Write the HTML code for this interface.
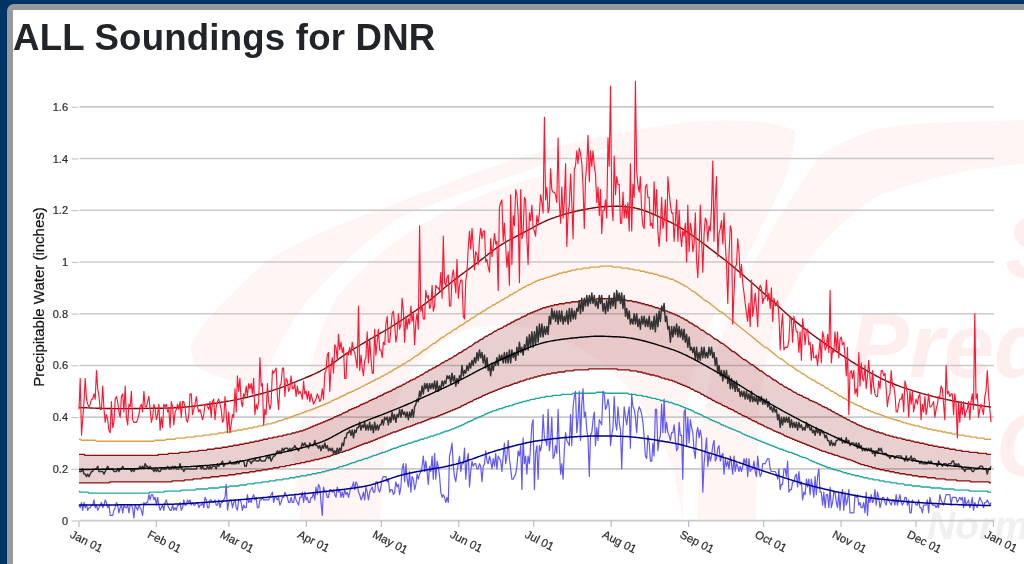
<!DOCTYPE html>
<html><head><meta charset="utf-8"><title>ALL Soundings for DNR</title>
<style>
html,body{margin:0;padding:0;}
body{width:1024px;height:564px;overflow:hidden;background:#003366;position:relative;font-family:"Liberation Sans",sans-serif;}
#frame{position:absolute;left:7px;top:4px;width:1100px;height:700px;box-sizing:border-box;border:6px solid #999;border-radius:7px;background:#fff;}
h1{position:absolute;left:12.5px;top:17.1px;margin:0;font-size:36.4px;line-height:42px;font-weight:bold;color:#212529;white-space:nowrap;letter-spacing:0.2px;transform:scaleX(1.006);transform-origin:0 0;will-change:transform;}
</style></head><body>
<div id="frame"></div>
<!--WATERMARK-->
<h1>ALL Soundings for DNR</h1>
<svg width="1024" height="564" viewBox="0 0 1024 564" style="position:absolute;left:0;top:0;will-change:transform" font-family="Liberation Sans, sans-serif">
<g fill="#fff5f5" stroke="none">
<path d="M190,347 C200,325 215,310 228,298 C245,280 258,268 273,257 C305,238 345,222 381,209 C415,196 448,183 478,172 C505,163 533,153 560,146 C600,136 640,128 690,122 C730,119 770,120 796,131 C792,160 786,178 780,191 C770,210 762,225 758,235 C745,262 732,282 722,300 C712,318 705,335 700,350 C690,380 686,400 684,430 L683,521 C677,470 660,425 630,390 C595,350 545,325 500,325 C440,325 400,370 385,440 L380,521 L300,521 C296,470 290,420 280,395 C272,388 265,384 257,382 C240,384 215,378 195,366 Z"/>
<path d="M820,156 C838,143 858,135 877,129 C905,124 935,122 966,122 L1024,120 L1024,164 C1000,166 985,168 972,170 C940,176 910,184 880,195 C868,201 860,207 855,213 C838,226 824,240 811,257 C797,277 785,300 775,328 C768,350 762,380 758,420 L756,521 L697,521 C698,450 704,390 722,335 C745,270 785,205 820,156 Z"/>
</g>
<path d="M262,384 C275,350 290,322 310,298 C338,266 368,238 403,216 C432,204 462,193 492,183 C515,175 538,166 560,159 C580,154 598,150 615,148 C598,155 580,163 560,170 C538,177 517,183 496,190 C466,201 438,214 411,231 C382,250 357,272 336,298 C322,325 310,360 304,400 L300,440 L286,440 C284,420 276,398 262,384 Z" fill="#fff" stroke="none"/>
<g font-weight="bold" font-style="italic" fill="#ffeeee">
<text x="1005" y="278" font-size="90">Storm</text>
<text x="849" y="377" font-size="90">Prediction</text>
<text x="996" y="476" font-size="90">Center</text>
<text x="927" y="539" font-size="39" fill="#f0f0f0">Norman, Oklahoma</text>
</g>
<line x1="79.6" x2="994" y1="520.60" y2="520.60" stroke="#c9caca" stroke-width="1.6"/>
<line x1="71.6" x2="78.4" y1="521.00" y2="521.00" stroke="#a6a6a6" stroke-width="0.75"/>
<text x="68" y="524.60" font-size="11" fill="#2b2b2b" stroke="#2b2b2b" stroke-width="0.2" text-anchor="end">0</text>
<line x1="79.6" x2="994" y1="468.88" y2="468.88" stroke="#c9caca" stroke-width="1.6"/>
<line x1="71.6" x2="78.4" y1="469.28" y2="469.28" stroke="#a6a6a6" stroke-width="0.75"/>
<text x="68" y="472.88" font-size="11" fill="#2b2b2b" stroke="#2b2b2b" stroke-width="0.2" text-anchor="end">0.2</text>
<line x1="79.6" x2="994" y1="417.16" y2="417.16" stroke="#c9caca" stroke-width="1.6"/>
<line x1="71.6" x2="78.4" y1="417.56" y2="417.56" stroke="#a6a6a6" stroke-width="0.75"/>
<text x="68" y="421.16" font-size="11" fill="#2b2b2b" stroke="#2b2b2b" stroke-width="0.2" text-anchor="end">0.4</text>
<line x1="79.6" x2="994" y1="365.44" y2="365.44" stroke="#c9caca" stroke-width="1.6"/>
<line x1="71.6" x2="78.4" y1="365.84" y2="365.84" stroke="#a6a6a6" stroke-width="0.75"/>
<text x="68" y="369.44" font-size="11" fill="#2b2b2b" stroke="#2b2b2b" stroke-width="0.2" text-anchor="end">0.6</text>
<line x1="79.6" x2="994" y1="313.72" y2="313.72" stroke="#c9caca" stroke-width="1.6"/>
<line x1="71.6" x2="78.4" y1="314.12" y2="314.12" stroke="#a6a6a6" stroke-width="0.75"/>
<text x="68" y="317.72" font-size="11" fill="#2b2b2b" stroke="#2b2b2b" stroke-width="0.2" text-anchor="end">0.8</text>
<line x1="79.6" x2="994" y1="262.00" y2="262.00" stroke="#c9caca" stroke-width="1.6"/>
<line x1="71.6" x2="78.4" y1="262.40" y2="262.40" stroke="#a6a6a6" stroke-width="0.75"/>
<text x="68" y="266.00" font-size="11" fill="#2b2b2b" stroke="#2b2b2b" stroke-width="0.2" text-anchor="end">1</text>
<line x1="79.6" x2="994" y1="210.28" y2="210.28" stroke="#c9caca" stroke-width="1.6"/>
<line x1="71.6" x2="78.4" y1="210.68" y2="210.68" stroke="#a6a6a6" stroke-width="0.75"/>
<text x="68" y="214.28" font-size="11" fill="#2b2b2b" stroke="#2b2b2b" stroke-width="0.2" text-anchor="end">1.2</text>
<line x1="79.6" x2="994" y1="158.56" y2="158.56" stroke="#c9caca" stroke-width="1.6"/>
<line x1="71.6" x2="78.4" y1="158.96" y2="158.96" stroke="#a6a6a6" stroke-width="0.75"/>
<text x="68" y="162.56" font-size="11" fill="#2b2b2b" stroke="#2b2b2b" stroke-width="0.2" text-anchor="end">1.4</text>
<line x1="79.6" x2="994" y1="106.84" y2="106.84" stroke="#c9caca" stroke-width="1.6"/>
<line x1="71.6" x2="78.4" y1="107.24" y2="107.24" stroke="#a6a6a6" stroke-width="0.75"/>
<text x="68" y="110.84" font-size="11" fill="#2b2b2b" stroke="#2b2b2b" stroke-width="0.2" text-anchor="end">1.6</text>
<line x1="79.00" x2="79.00" y1="520.60" y2="527.10" stroke="#bdbdbd" stroke-width="1.2"/>
<text transform="translate(73.00,529.80) rotate(27)" font-size="11.5" fill="#2b2b2b" stroke="#2b2b2b" stroke-width="0.2" dominant-baseline="hanging">Jan 01</text>
<line x1="156.45" x2="156.45" y1="520.60" y2="527.10" stroke="#bdbdbd" stroke-width="1.2"/>
<text transform="translate(150.45,529.80) rotate(27)" font-size="11.5" fill="#2b2b2b" stroke="#2b2b2b" stroke-width="0.2" dominant-baseline="hanging">Feb 01</text>
<line x1="228.91" x2="228.91" y1="520.60" y2="527.10" stroke="#bdbdbd" stroke-width="1.2"/>
<text transform="translate(222.91,529.80) rotate(27)" font-size="11.5" fill="#2b2b2b" stroke="#2b2b2b" stroke-width="0.2" dominant-baseline="hanging">Mar 01</text>
<line x1="306.36" x2="306.36" y1="520.60" y2="527.10" stroke="#bdbdbd" stroke-width="1.2"/>
<text transform="translate(300.36,529.80) rotate(27)" font-size="11.5" fill="#2b2b2b" stroke="#2b2b2b" stroke-width="0.2" dominant-baseline="hanging">Apr 01</text>
<line x1="381.32" x2="381.32" y1="520.60" y2="527.10" stroke="#bdbdbd" stroke-width="1.2"/>
<text transform="translate(375.32,529.80) rotate(27)" font-size="11.5" fill="#2b2b2b" stroke="#2b2b2b" stroke-width="0.2" dominant-baseline="hanging">May 01</text>
<line x1="458.77" x2="458.77" y1="520.60" y2="527.10" stroke="#bdbdbd" stroke-width="1.2"/>
<text transform="translate(452.77,529.80) rotate(27)" font-size="11.5" fill="#2b2b2b" stroke="#2b2b2b" stroke-width="0.2" dominant-baseline="hanging">Jun 01</text>
<line x1="533.73" x2="533.73" y1="520.60" y2="527.10" stroke="#bdbdbd" stroke-width="1.2"/>
<text transform="translate(527.73,529.80) rotate(27)" font-size="11.5" fill="#2b2b2b" stroke="#2b2b2b" stroke-width="0.2" dominant-baseline="hanging">Jul 01</text>
<line x1="611.18" x2="611.18" y1="520.60" y2="527.10" stroke="#bdbdbd" stroke-width="1.2"/>
<text transform="translate(605.18,529.80) rotate(27)" font-size="11.5" fill="#2b2b2b" stroke="#2b2b2b" stroke-width="0.2" dominant-baseline="hanging">Aug 01</text>
<line x1="688.63" x2="688.63" y1="520.60" y2="527.10" stroke="#bdbdbd" stroke-width="1.2"/>
<text transform="translate(682.63,529.80) rotate(27)" font-size="11.5" fill="#2b2b2b" stroke="#2b2b2b" stroke-width="0.2" dominant-baseline="hanging">Sep 01</text>
<line x1="763.59" x2="763.59" y1="520.60" y2="527.10" stroke="#bdbdbd" stroke-width="1.2"/>
<text transform="translate(757.59,529.80) rotate(27)" font-size="11.5" fill="#2b2b2b" stroke="#2b2b2b" stroke-width="0.2" dominant-baseline="hanging">Oct 01</text>
<line x1="841.04" x2="841.04" y1="520.60" y2="527.10" stroke="#bdbdbd" stroke-width="1.2"/>
<text transform="translate(835.04,529.80) rotate(27)" font-size="11.5" fill="#2b2b2b" stroke="#2b2b2b" stroke-width="0.2" dominant-baseline="hanging">Nov 01</text>
<line x1="916.00" x2="916.00" y1="520.60" y2="527.10" stroke="#bdbdbd" stroke-width="1.2"/>
<text transform="translate(910.00,529.80) rotate(27)" font-size="11.5" fill="#2b2b2b" stroke="#2b2b2b" stroke-width="0.2" dominant-baseline="hanging">Dec 01</text>
<line x1="993.45" x2="993.45" y1="520.60" y2="527.10" stroke="#bdbdbd" stroke-width="1.2"/>
<text transform="translate(987.45,529.80) rotate(27)" font-size="11.5" fill="#2b2b2b" stroke="#2b2b2b" stroke-width="0.2" dominant-baseline="hanging">Jan 01</text>
<text transform="translate(43.7,297) rotate(-90)" font-size="15" fill="#111" stroke="#111" stroke-width="0.2" text-anchor="middle">Precipitable Water (inches)</text>
<path d="M79.0,454.4L80.2,454.4L81.5,454.4L82.7,454.4L84.0,454.4L85.2,455.4L86.5,455.4L87.7,455.4L89.0,455.4L90.2,455.4L91.5,455.4L92.7,455.4L94.0,455.4L95.2,455.4L96.5,455.4L97.7,455.4L99.0,455.4L100.2,455.4L101.5,455.4L102.7,455.4L104.0,455.4L105.2,455.4L106.4,455.4L107.7,455.4L108.9,455.4L110.2,455.4L111.4,455.4L112.7,455.4L113.9,455.4L115.2,455.4L116.4,455.4L117.7,455.4L118.9,455.4L120.2,455.4L121.4,455.4L122.7,455.4L123.9,455.4L125.2,455.4L126.4,455.4L127.7,455.4L128.9,455.4L130.2,455.4L131.4,455.4L132.6,455.4L133.9,455.4L135.1,455.4L136.4,455.4L137.6,455.4L138.9,455.4L140.1,455.4L141.4,455.4L142.6,455.4L143.9,455.4L145.1,455.4L146.4,455.4L147.6,455.4L148.9,455.4L150.1,455.4L151.4,455.4L152.6,455.4L153.9,455.4L155.1,455.4L156.4,455.4L157.6,455.4L158.8,454.4L160.1,454.4L161.3,454.4L162.6,454.4L163.8,454.4L165.1,454.4L166.3,454.4L167.6,454.4L168.8,453.4L170.1,453.4L171.3,453.4L172.6,453.4L173.8,453.4L175.1,453.4L176.3,453.4L177.6,453.4L178.8,453.4L180.1,452.4L181.3,452.4L182.6,452.4L183.8,452.4L185.0,452.4L186.3,452.4L187.5,452.4L188.8,452.4L190.0,451.4L191.3,451.4L192.5,451.4L193.8,451.4L195.0,451.4L196.3,451.4L197.5,451.4L198.8,450.4L200.0,450.4L201.3,450.4L202.5,450.4L203.8,450.4L205.0,450.4L206.3,450.4L207.5,449.3L208.8,449.3L210.0,449.3L211.2,449.3L212.5,449.3L213.7,449.3L215.0,448.3L216.2,448.3L217.5,448.3L218.7,448.3L220.0,448.3L221.2,448.3L222.5,447.3L223.7,447.3L225.0,447.3L226.2,447.3L227.5,447.3L228.7,446.3L230.0,446.3L231.2,446.3L232.5,446.3L233.7,445.3L235.0,445.3L236.2,445.3L237.4,445.3L238.7,445.3L239.9,444.2L241.2,444.2L242.4,444.2L243.7,444.2L244.9,443.2L246.2,443.2L247.4,443.2L248.7,443.2L249.9,442.2L251.2,442.2L252.4,442.2L253.7,442.2L254.9,441.2L256.2,441.2L257.4,441.2L258.7,441.2L259.9,440.2L261.2,440.2L262.4,440.2L263.6,439.2L264.9,439.2L266.1,439.2L267.4,439.2L268.6,438.1L269.9,438.1L271.1,438.1L272.4,438.1L273.6,437.1L274.9,437.1L276.1,437.1L277.4,437.1L278.6,436.1L279.9,436.1L281.1,436.1L282.4,436.1L283.6,435.1L284.9,435.1L286.1,435.1L287.4,434.1L288.6,434.1L289.8,434.1L291.1,434.1L292.3,433.0L293.6,433.0L294.8,433.0L296.1,432.0L297.3,432.0L298.6,432.0L299.8,431.0L301.1,431.0L302.3,431.0L303.6,430.0L304.8,430.0L306.1,429.0L307.3,429.0L308.6,428.0L309.8,428.0L311.1,426.9L312.3,426.9L313.5,425.9L314.8,425.9L316.0,424.9L317.3,424.9L318.5,423.9L319.8,423.9L321.0,422.9L322.3,422.9L323.5,421.8L324.8,421.8L326.0,420.8L327.3,420.8L328.5,419.8L329.8,419.8L331.0,418.8L332.3,418.8L333.5,417.8L334.8,416.8L336.0,416.8L337.3,415.7L338.5,415.7L339.7,414.7L341.0,414.7L342.2,413.7L343.5,412.7L344.7,412.7L346.0,411.7L347.2,411.7L348.5,410.6L349.7,409.6L351.0,409.6L352.2,408.6L353.5,408.6L354.7,407.6L356.0,407.6L357.2,406.6L358.5,406.6L359.7,405.6L361.0,404.5L362.2,404.5L363.5,403.5L364.7,403.5L365.9,402.5L367.2,402.5L368.4,401.5L369.7,400.5L370.9,400.5L372.2,399.4L373.4,399.4L374.7,398.4L375.9,398.4L377.2,397.4L378.4,396.4L379.7,396.4L380.9,395.4L382.2,395.4L383.4,394.4L384.7,393.3L385.9,393.3L387.2,392.3L388.4,392.3L389.7,391.3L390.9,391.3L392.1,390.3L393.4,389.3L394.6,389.3L395.9,388.2L397.1,387.2L398.4,387.2L399.6,386.2L400.9,386.2L402.1,385.2L403.4,384.2L404.6,384.2L405.9,383.2L407.1,382.1L408.4,382.1L409.6,381.1L410.9,380.1L412.1,380.1L413.4,379.1L414.6,379.1L415.9,378.1L417.1,377.0L418.3,377.0L419.6,376.0L420.8,375.0L422.1,375.0L423.3,374.0L424.6,373.0L425.8,372.0L427.1,372.0L428.3,370.9L429.6,369.9L430.8,369.9L432.1,368.9L433.3,367.9L434.6,367.9L435.8,366.9L437.1,365.8L438.3,365.8L439.6,364.8L440.8,363.8L442.1,362.8L443.3,362.8L444.5,361.8L445.8,360.8L447.0,360.8L448.3,359.7L449.5,358.7L450.8,358.7L452.0,357.7L453.3,356.7L454.5,355.7L455.8,355.7L457.0,354.6L458.3,353.6L459.5,352.6L460.8,352.6L462.0,351.6L463.3,350.6L464.5,349.6L465.8,349.6L467.0,348.5L468.3,347.5L469.5,346.5L470.7,346.5L472.0,345.5L473.2,344.5L474.5,343.4L475.7,342.4L477.0,342.4L478.2,341.4L479.5,340.4L480.7,339.4L482.0,339.4L483.2,338.4L484.5,337.3L485.7,336.3L487.0,336.3L488.2,335.3L489.5,334.3L490.7,334.3L492.0,333.3L493.2,332.2L494.5,331.2L495.7,331.2L496.9,330.2L498.2,329.2L499.4,329.2L500.7,328.2L501.9,328.2L503.2,327.2L504.4,326.1L505.7,326.1L506.9,325.1L508.2,324.1L509.4,324.1L510.7,323.1L511.9,322.1L513.2,322.1L514.4,321.1L515.7,320.0L516.9,320.0L518.2,319.0L519.4,319.0L520.7,318.0L521.9,317.0L523.1,317.0L524.4,316.0L525.6,316.0L526.9,314.9L528.1,313.9L529.4,313.9L530.6,312.9L531.9,312.9L533.1,311.9L534.4,311.9L535.6,310.9L536.9,310.9L538.1,309.9L539.4,309.9L540.6,308.8L541.9,308.8L543.1,307.8L544.4,307.8L545.6,307.8L546.9,306.8L548.1,306.8L549.3,306.8L550.6,305.8L551.8,305.8L553.1,305.8L554.3,304.8L555.6,304.8L556.8,304.8L558.1,304.8L559.3,303.7L560.6,303.7L561.8,303.7L563.1,303.7L564.3,303.7L565.6,302.7L566.8,302.7L568.1,302.7L569.3,302.7L570.6,302.7L571.8,301.7L573.1,301.7L574.3,301.7L575.5,301.7L576.8,301.7L578.0,301.7L579.3,300.7L580.5,300.7L581.8,300.7L583.0,300.7L584.3,300.7L585.5,300.7L586.8,300.7L588.0,299.7L589.3,299.7L590.5,299.7L591.8,299.7L593.0,299.7L594.3,299.7L595.5,299.7L596.8,298.7L598.0,298.7L599.3,298.7L600.5,298.7L601.7,298.7L603.0,298.7L604.2,298.7L605.5,298.7L606.7,298.7L608.0,298.7L609.2,298.7L610.5,298.7L611.7,298.7L613.0,298.7L614.2,298.7L615.5,299.7L616.7,299.7L618.0,299.7L619.2,299.7L620.5,299.7L621.7,299.7L623.0,299.7L624.2,299.7L625.5,299.7L626.7,300.7L627.9,300.7L629.2,300.7L630.4,300.7L631.7,300.7L632.9,301.7L634.2,301.7L635.4,301.7L636.7,301.7L637.9,302.7L639.2,302.7L640.4,302.7L641.7,303.7L642.9,303.7L644.2,303.7L645.4,304.8L646.7,304.8L647.9,304.8L649.2,305.8L650.4,305.8L651.7,305.8L652.9,306.8L654.1,306.8L655.4,307.8L656.6,307.8L657.9,307.8L659.1,308.8L660.4,308.8L661.6,309.9L662.9,309.9L664.1,310.9L665.4,310.9L666.6,310.9L667.9,311.9L669.1,311.9L670.4,312.9L671.6,312.9L672.9,313.9L674.1,313.9L675.4,314.9L676.6,314.9L677.9,316.0L679.1,316.0L680.3,317.0L681.6,318.0L682.8,318.0L684.1,319.0L685.3,320.0L686.6,320.0L687.8,321.1L689.1,322.1L690.3,323.1L691.6,323.1L692.8,324.1L694.1,325.1L695.3,326.1L696.6,326.1L697.8,327.2L699.1,328.2L700.3,329.2L701.6,330.2L702.8,330.2L704.1,331.2L705.3,332.2L706.5,333.3L707.8,334.3L709.0,334.3L710.3,335.3L711.5,336.3L712.8,337.3L714.0,338.4L715.3,339.4L716.5,339.4L717.8,340.4L719.0,341.4L720.3,342.4L721.5,343.4L722.8,343.4L724.0,344.5L725.3,345.5L726.5,346.5L727.8,347.5L729.0,348.5L730.3,349.6L731.5,350.6L732.7,351.6L734.0,351.6L735.2,352.6L736.5,353.6L737.7,354.6L739.0,355.7L740.2,356.7L741.5,357.7L742.7,358.7L744.0,359.7L745.2,359.7L746.5,360.8L747.7,361.8L749.0,362.8L750.2,363.8L751.5,364.8L752.7,364.8L754.0,365.8L755.2,366.9L756.5,367.9L757.7,368.9L758.9,369.9L760.2,370.9L761.4,370.9L762.7,372.0L763.9,373.0L765.2,374.0L766.4,375.0L767.7,376.0L768.9,376.0L770.2,377.0L771.4,378.1L772.7,379.1L773.9,380.1L775.2,380.1L776.4,381.1L777.7,382.1L778.9,383.2L780.2,384.2L781.4,384.2L782.6,385.2L783.9,386.2L785.1,387.2L786.4,387.2L787.6,388.2L788.9,389.3L790.1,389.3L791.4,390.3L792.6,391.3L793.9,392.3L795.1,392.3L796.4,393.3L797.6,394.4L798.9,394.4L800.1,395.4L801.4,395.4L802.6,396.4L803.9,397.4L805.1,397.4L806.4,398.4L807.6,398.4L808.8,399.4L810.1,400.5L811.3,400.5L812.6,401.5L813.8,401.5L815.1,402.5L816.3,402.5L817.6,403.5L818.8,404.5L820.1,404.5L821.3,405.6L822.6,406.6L823.8,406.6L825.1,407.6L826.3,407.6L827.6,408.6L828.8,409.6L830.1,409.6L831.3,410.6L832.6,411.7L833.8,411.7L835.0,412.7L836.3,413.7L837.5,413.7L838.8,414.7L840.0,415.7L841.3,415.7L842.5,416.8L843.8,417.8L845.0,417.8L846.3,418.8L847.5,419.8L848.8,419.8L850.0,420.8L851.3,421.8L852.5,421.8L853.8,422.9L855.0,422.9L856.3,423.9L857.5,424.9L858.8,424.9L860.0,425.9L861.2,425.9L862.5,426.9L863.7,426.9L865.0,428.0L866.2,428.0L867.5,429.0L868.7,429.0L870.0,429.0L871.2,430.0L872.5,430.0L873.7,431.0L875.0,431.0L876.2,432.0L877.5,432.0L878.7,432.0L880.0,433.0L881.2,433.0L882.5,433.0L883.7,434.1L885.0,434.1L886.2,435.1L887.4,435.1L888.7,435.1L889.9,436.1L891.2,436.1L892.4,436.1L893.7,437.1L894.9,437.1L896.2,437.1L897.4,438.1L898.7,438.1L899.9,438.1L901.2,438.1L902.4,439.2L903.7,439.2L904.9,439.2L906.2,440.2L907.4,440.2L908.7,440.2L909.9,440.2L911.2,441.2L912.4,441.2L913.6,441.2L914.9,442.2L916.1,442.2L917.4,442.2L918.6,442.2L919.9,443.2L921.1,443.2L922.4,443.2L923.6,443.2L924.9,444.2L926.1,444.2L927.4,444.2L928.6,445.3L929.9,445.3L931.1,445.3L932.4,445.3L933.6,446.3L934.9,446.3L936.1,446.3L937.4,446.3L938.6,447.3L939.8,447.3L941.1,447.3L942.3,447.3L943.6,447.3L944.8,448.3L946.1,448.3L947.3,448.3L948.6,448.3L949.8,449.3L951.1,449.3L952.3,449.3L953.6,449.3L954.8,449.3L956.1,450.4L957.3,450.4L958.6,450.4L959.8,450.4L961.1,450.4L962.3,451.4L963.6,451.4L964.8,451.4L966.0,451.4L967.3,451.4L968.5,451.4L969.8,452.4L971.0,452.4L972.3,452.4L973.5,452.4L974.8,452.4L976.0,452.4L977.3,452.4L978.5,453.4L979.8,453.4L981.0,453.4L982.3,453.4L983.5,453.4L984.8,453.4L986.0,453.4L987.3,454.4L988.5,454.4L989.8,454.4L991.0,454.4L991.0,482.9L989.8,482.9L988.5,481.9L987.3,481.9L986.0,481.9L984.8,481.9L983.5,481.9L982.3,481.9L981.0,481.9L979.8,481.9L978.5,481.9L977.3,481.9L976.0,481.9L974.8,481.9L973.5,481.9L972.3,481.9L971.0,481.9L969.8,480.9L968.5,480.9L967.3,480.9L966.0,480.9L964.8,480.9L963.6,480.9L962.3,480.9L961.1,480.9L959.8,480.9L958.6,480.9L957.3,480.9L956.1,479.9L954.8,479.9L953.6,479.9L952.3,479.9L951.1,479.9L949.8,479.9L948.6,479.9L947.3,479.9L946.1,479.9L944.8,478.9L943.6,478.9L942.3,478.9L941.1,478.9L939.8,478.9L938.6,478.9L937.4,478.9L936.1,478.9L934.9,477.8L933.6,477.8L932.4,477.8L931.1,477.8L929.9,477.8L928.6,477.8L927.4,477.8L926.1,476.8L924.9,476.8L923.6,476.8L922.4,476.8L921.1,476.8L919.9,476.8L918.6,476.8L917.4,475.8L916.1,475.8L914.9,475.8L913.6,475.8L912.4,475.8L911.2,474.8L909.9,474.8L908.7,474.8L907.4,474.8L906.2,474.8L904.9,473.8L903.7,473.8L902.4,473.8L901.2,473.8L899.9,473.8L898.7,472.7L897.4,472.7L896.2,472.7L894.9,472.7L893.7,471.7L892.4,471.7L891.2,471.7L889.9,471.7L888.7,470.7L887.4,470.7L886.2,470.7L885.0,470.7L883.7,469.7L882.5,469.7L881.2,469.7L880.0,469.7L878.7,468.7L877.5,468.7L876.2,468.7L875.0,467.7L873.7,467.7L872.5,467.7L871.2,466.6L870.0,466.6L868.7,466.6L867.5,465.6L866.2,465.6L865.0,465.6L863.7,464.6L862.5,464.6L861.2,464.6L860.0,463.6L858.8,463.6L857.5,462.6L856.3,462.6L855.0,461.5L853.8,461.5L852.5,460.5L851.3,460.5L850.0,459.5L848.8,459.5L847.5,459.5L846.3,458.5L845.0,458.5L843.8,457.5L842.5,457.5L841.3,457.5L840.0,456.5L838.8,456.5L837.5,455.4L836.3,455.4L835.0,455.4L833.8,454.4L832.6,454.4L831.3,453.4L830.1,453.4L828.8,453.4L827.6,452.4L826.3,452.4L825.1,451.4L823.8,451.4L822.6,451.4L821.3,450.4L820.1,450.4L818.8,449.3L817.6,449.3L816.3,448.3L815.1,448.3L813.8,447.3L812.6,447.3L811.3,446.3L810.1,446.3L808.8,445.3L807.6,445.3L806.4,444.2L805.1,444.2L803.9,443.2L802.6,443.2L801.4,442.2L800.1,442.2L798.9,441.2L797.6,441.2L796.4,440.2L795.1,440.2L793.9,439.2L792.6,439.2L791.4,438.1L790.1,438.1L788.9,437.1L787.6,437.1L786.4,436.1L785.1,436.1L783.9,435.1L782.6,434.1L781.4,434.1L780.2,433.0L778.9,433.0L777.7,432.0L776.4,432.0L775.2,431.0L773.9,431.0L772.7,430.0L771.4,429.0L770.2,429.0L768.9,428.0L767.7,428.0L766.4,426.9L765.2,426.9L763.9,425.9L762.7,424.9L761.4,424.9L760.2,423.9L758.9,423.9L757.7,422.9L756.5,421.8L755.2,421.8L754.0,420.8L752.7,420.8L751.5,419.8L750.2,418.8L749.0,418.8L747.7,417.8L746.5,416.8L745.2,416.8L744.0,415.7L742.7,415.7L741.5,414.7L740.2,413.7L739.0,413.7L737.7,412.7L736.5,411.7L735.2,411.7L734.0,410.6L732.7,409.6L731.5,409.6L730.3,408.6L729.0,408.6L727.8,407.6L726.5,406.6L725.3,406.6L724.0,405.6L722.8,405.6L721.5,404.5L720.3,403.5L719.0,403.5L717.8,402.5L716.5,402.5L715.3,401.5L714.0,400.5L712.8,400.5L711.5,399.4L710.3,398.4L709.0,398.4L707.8,397.4L706.5,396.4L705.3,396.4L704.1,395.4L702.8,394.4L701.6,394.4L700.3,393.3L699.1,392.3L697.8,392.3L696.6,391.3L695.3,391.3L694.1,390.3L692.8,389.3L691.6,389.3L690.3,388.2L689.1,387.2L687.8,387.2L686.6,386.2L685.3,386.2L684.1,385.2L682.8,385.2L681.6,384.2L680.3,384.2L679.1,383.2L677.9,383.2L676.6,382.1L675.4,382.1L674.1,381.1L672.9,381.1L671.6,380.1L670.4,380.1L669.1,380.1L667.9,379.1L666.6,379.1L665.4,379.1L664.1,378.1L662.9,378.1L661.6,378.1L660.4,377.0L659.1,377.0L657.9,376.0L656.6,376.0L655.4,376.0L654.1,375.0L652.9,375.0L651.7,375.0L650.4,375.0L649.2,374.0L647.9,374.0L646.7,374.0L645.4,373.0L644.2,373.0L642.9,373.0L641.7,372.0L640.4,372.0L639.2,372.0L637.9,372.0L636.7,370.9L635.4,370.9L634.2,370.9L632.9,370.9L631.7,370.9L630.4,370.9L629.2,369.9L627.9,369.9L626.7,369.9L625.5,369.9L624.2,369.9L623.0,369.9L621.7,369.9L620.5,369.9L619.2,369.9L618.0,369.9L616.7,368.9L615.5,368.9L614.2,368.9L613.0,368.9L611.7,368.9L610.5,368.9L609.2,368.9L608.0,368.9L606.7,368.9L605.5,368.9L604.2,368.9L603.0,368.9L601.7,368.9L600.5,368.9L599.3,368.9L598.0,368.9L596.8,368.9L595.5,368.9L594.3,368.9L593.0,368.9L591.8,368.9L590.5,368.9L589.3,368.9L588.0,369.9L586.8,369.9L585.5,369.9L584.3,369.9L583.0,369.9L581.8,369.9L580.5,369.9L579.3,369.9L578.0,369.9L576.8,369.9L575.5,369.9L574.3,369.9L573.1,370.9L571.8,370.9L570.6,370.9L569.3,370.9L568.1,370.9L566.8,370.9L565.6,370.9L564.3,372.0L563.1,372.0L561.8,372.0L560.6,372.0L559.3,372.0L558.1,372.0L556.8,373.0L555.6,373.0L554.3,373.0L553.1,373.0L551.8,373.0L550.6,374.0L549.3,374.0L548.1,374.0L546.9,374.0L545.6,375.0L544.4,375.0L543.1,375.0L541.9,375.0L540.6,376.0L539.4,376.0L538.1,376.0L536.9,377.0L535.6,377.0L534.4,377.0L533.1,378.1L531.9,378.1L530.6,378.1L529.4,379.1L528.1,379.1L526.9,379.1L525.6,380.1L524.4,380.1L523.1,381.1L521.9,381.1L520.7,381.1L519.4,382.1L518.2,382.1L516.9,383.2L515.7,383.2L514.4,383.2L513.2,384.2L511.9,384.2L510.7,385.2L509.4,385.2L508.2,386.2L506.9,386.2L505.7,386.2L504.4,387.2L503.2,387.2L501.9,388.2L500.7,388.2L499.4,389.3L498.2,389.3L496.9,390.3L495.7,390.3L494.5,391.3L493.2,391.3L492.0,392.3L490.7,392.3L489.5,393.3L488.2,393.3L487.0,394.4L485.7,394.4L484.5,395.4L483.2,395.4L482.0,396.4L480.7,397.4L479.5,397.4L478.2,398.4L477.0,398.4L475.7,399.4L474.5,399.4L473.2,400.5L472.0,401.5L470.7,401.5L469.5,402.5L468.3,402.5L467.0,403.5L465.8,404.5L464.5,404.5L463.3,405.6L462.0,405.6L460.8,406.6L459.5,407.6L458.3,407.6L457.0,408.6L455.8,408.6L454.5,409.6L453.3,409.6L452.0,410.6L450.8,410.6L449.5,411.7L448.3,411.7L447.0,412.7L445.8,412.7L444.5,413.7L443.3,413.7L442.1,414.7L440.8,414.7L439.6,415.7L438.3,415.7L437.1,416.8L435.8,416.8L434.6,417.8L433.3,417.8L432.1,417.8L430.8,418.8L429.6,418.8L428.3,419.8L427.1,419.8L425.8,420.8L424.6,420.8L423.3,421.8L422.1,421.8L420.8,422.9L419.6,422.9L418.3,422.9L417.1,423.9L415.9,423.9L414.6,424.9L413.4,424.9L412.1,425.9L410.9,425.9L409.6,426.9L408.4,426.9L407.1,426.9L405.9,428.0L404.6,428.0L403.4,429.0L402.1,429.0L400.9,430.0L399.6,430.0L398.4,431.0L397.1,431.0L395.9,432.0L394.6,432.0L393.4,432.0L392.1,433.0L390.9,433.0L389.7,434.1L388.4,434.1L387.2,435.1L385.9,435.1L384.7,436.1L383.4,436.1L382.2,437.1L380.9,437.1L379.7,438.1L378.4,438.1L377.2,439.2L375.9,439.2L374.7,440.2L373.4,440.2L372.2,441.2L370.9,441.2L369.7,442.2L368.4,442.2L367.2,443.2L365.9,443.2L364.7,443.2L363.5,444.2L362.2,444.2L361.0,445.3L359.7,445.3L358.5,446.3L357.2,446.3L356.0,447.3L354.7,447.3L353.5,448.3L352.2,448.3L351.0,449.3L349.7,449.3L348.5,450.4L347.2,450.4L346.0,450.4L344.7,451.4L343.5,451.4L342.2,452.4L341.0,452.4L339.7,452.4L338.5,453.4L337.3,453.4L336.0,454.4L334.8,454.4L333.5,454.4L332.3,455.4L331.0,455.4L329.8,456.5L328.5,456.5L327.3,456.5L326.0,457.5L324.8,457.5L323.5,457.5L322.3,458.5L321.0,458.5L319.8,458.5L318.5,459.5L317.3,459.5L316.0,459.5L314.8,459.5L313.5,460.5L312.3,460.5L311.1,460.5L309.8,461.5L308.6,461.5L307.3,461.5L306.1,461.5L304.8,462.6L303.6,462.6L302.3,462.6L301.1,462.6L299.8,463.6L298.6,463.6L297.3,463.6L296.1,463.6L294.8,464.6L293.6,464.6L292.3,464.6L291.1,464.6L289.8,465.6L288.6,465.6L287.4,465.6L286.1,465.6L284.9,466.6L283.6,466.6L282.4,466.6L281.1,466.6L279.9,466.6L278.6,467.7L277.4,467.7L276.1,467.7L274.9,467.7L273.6,467.7L272.4,468.7L271.1,468.7L269.9,468.7L268.6,468.7L267.4,469.7L266.1,469.7L264.9,469.7L263.6,469.7L262.4,469.7L261.2,470.7L259.9,470.7L258.7,470.7L257.4,470.7L256.2,470.7L254.9,471.7L253.7,471.7L252.4,471.7L251.2,471.7L249.9,471.7L248.7,472.7L247.4,472.7L246.2,472.7L244.9,472.7L243.7,472.7L242.4,472.7L241.2,473.8L239.9,473.8L238.7,473.8L237.4,473.8L236.2,473.8L235.0,474.8L233.7,474.8L232.5,474.8L231.2,474.8L230.0,474.8L228.7,474.8L227.5,475.8L226.2,475.8L225.0,475.8L223.7,475.8L222.5,475.8L221.2,475.8L220.0,475.8L218.7,476.8L217.5,476.8L216.2,476.8L215.0,476.8L213.7,476.8L212.5,476.8L211.2,476.8L210.0,477.8L208.8,477.8L207.5,477.8L206.3,477.8L205.0,477.8L203.8,477.8L202.5,477.8L201.3,478.9L200.0,478.9L198.8,478.9L197.5,478.9L196.3,478.9L195.0,478.9L193.8,478.9L192.5,479.9L191.3,479.9L190.0,479.9L188.8,479.9L187.5,479.9L186.3,479.9L185.0,479.9L183.8,480.9L182.6,480.9L181.3,480.9L180.1,480.9L178.8,480.9L177.6,480.9L176.3,480.9L175.1,480.9L173.8,480.9L172.6,480.9L171.3,481.9L170.1,481.9L168.8,481.9L167.6,481.9L166.3,481.9L165.1,481.9L163.8,481.9L162.6,481.9L161.3,481.9L160.1,481.9L158.8,481.9L157.6,481.9L156.4,481.9L155.1,481.9L153.9,481.9L152.6,481.9L151.4,481.9L150.1,481.9L148.9,481.9L147.6,481.9L146.4,481.9L145.1,481.9L143.9,481.9L142.6,481.9L141.4,481.9L140.1,481.9L138.9,481.9L137.6,481.9L136.4,481.9L135.1,481.9L133.9,481.9L132.6,481.9L131.4,481.9L130.2,481.9L128.9,481.9L127.7,481.9L126.4,481.9L125.2,481.9L123.9,481.9L122.7,481.9L121.4,481.9L120.2,481.9L118.9,481.9L117.7,481.9L116.4,481.9L115.2,481.9L113.9,481.9L112.7,481.9L111.4,481.9L110.2,481.9L108.9,482.9L107.7,482.9L106.4,482.9L105.2,482.9L104.0,482.9L102.7,482.9L101.5,482.9L100.2,482.9L99.0,482.9L97.7,482.9L96.5,482.9L95.2,482.9L94.0,482.9L92.7,482.9L91.5,482.9L90.2,482.9L89.0,482.9L87.7,482.9L86.5,482.9L85.2,482.9L84.0,482.9L82.7,482.9L81.5,482.9L80.2,482.9L79.0,482.9Z" fill="#800000" fill-opacity="0.185" stroke="none"/>
<path d="M79.0,454.4L80.2,454.4L81.5,454.4L82.7,454.4L84.0,454.4L85.2,455.4L86.5,455.4L87.7,455.4L89.0,455.4L90.2,455.4L91.5,455.4L92.7,455.4L94.0,455.4L95.2,455.4L96.5,455.4L97.7,455.4L99.0,455.4L100.2,455.4L101.5,455.4L102.7,455.4L104.0,455.4L105.2,455.4L106.4,455.4L107.7,455.4L108.9,455.4L110.2,455.4L111.4,455.4L112.7,455.4L113.9,455.4L115.2,455.4L116.4,455.4L117.7,455.4L118.9,455.4L120.2,455.4L121.4,455.4L122.7,455.4L123.9,455.4L125.2,455.4L126.4,455.4L127.7,455.4L128.9,455.4L130.2,455.4L131.4,455.4L132.6,455.4L133.9,455.4L135.1,455.4L136.4,455.4L137.6,455.4L138.9,455.4L140.1,455.4L141.4,455.4L142.6,455.4L143.9,455.4L145.1,455.4L146.4,455.4L147.6,455.4L148.9,455.4L150.1,455.4L151.4,455.4L152.6,455.4L153.9,455.4L155.1,455.4L156.4,455.4L157.6,455.4L158.8,454.4L160.1,454.4L161.3,454.4L162.6,454.4L163.8,454.4L165.1,454.4L166.3,454.4L167.6,454.4L168.8,453.4L170.1,453.4L171.3,453.4L172.6,453.4L173.8,453.4L175.1,453.4L176.3,453.4L177.6,453.4L178.8,453.4L180.1,452.4L181.3,452.4L182.6,452.4L183.8,452.4L185.0,452.4L186.3,452.4L187.5,452.4L188.8,452.4L190.0,451.4L191.3,451.4L192.5,451.4L193.8,451.4L195.0,451.4L196.3,451.4L197.5,451.4L198.8,450.4L200.0,450.4L201.3,450.4L202.5,450.4L203.8,450.4L205.0,450.4L206.3,450.4L207.5,449.3L208.8,449.3L210.0,449.3L211.2,449.3L212.5,449.3L213.7,449.3L215.0,448.3L216.2,448.3L217.5,448.3L218.7,448.3L220.0,448.3L221.2,448.3L222.5,447.3L223.7,447.3L225.0,447.3L226.2,447.3L227.5,447.3L228.7,446.3L230.0,446.3L231.2,446.3L232.5,446.3L233.7,445.3L235.0,445.3L236.2,445.3L237.4,445.3L238.7,445.3L239.9,444.2L241.2,444.2L242.4,444.2L243.7,444.2L244.9,443.2L246.2,443.2L247.4,443.2L248.7,443.2L249.9,442.2L251.2,442.2L252.4,442.2L253.7,442.2L254.9,441.2L256.2,441.2L257.4,441.2L258.7,441.2L259.9,440.2L261.2,440.2L262.4,440.2L263.6,439.2L264.9,439.2L266.1,439.2L267.4,439.2L268.6,438.1L269.9,438.1L271.1,438.1L272.4,438.1L273.6,437.1L274.9,437.1L276.1,437.1L277.4,437.1L278.6,436.1L279.9,436.1L281.1,436.1L282.4,436.1L283.6,435.1L284.9,435.1L286.1,435.1L287.4,434.1L288.6,434.1L289.8,434.1L291.1,434.1L292.3,433.0L293.6,433.0L294.8,433.0L296.1,432.0L297.3,432.0L298.6,432.0L299.8,431.0L301.1,431.0L302.3,431.0L303.6,430.0L304.8,430.0L306.1,429.0L307.3,429.0L308.6,428.0L309.8,428.0L311.1,426.9L312.3,426.9L313.5,425.9L314.8,425.9L316.0,424.9L317.3,424.9L318.5,423.9L319.8,423.9L321.0,422.9L322.3,422.9L323.5,421.8L324.8,421.8L326.0,420.8L327.3,420.8L328.5,419.8L329.8,419.8L331.0,418.8L332.3,418.8L333.5,417.8L334.8,416.8L336.0,416.8L337.3,415.7L338.5,415.7L339.7,414.7L341.0,414.7L342.2,413.7L343.5,412.7L344.7,412.7L346.0,411.7L347.2,411.7L348.5,410.6L349.7,409.6L351.0,409.6L352.2,408.6L353.5,408.6L354.7,407.6L356.0,407.6L357.2,406.6L358.5,406.6L359.7,405.6L361.0,404.5L362.2,404.5L363.5,403.5L364.7,403.5L365.9,402.5L367.2,402.5L368.4,401.5L369.7,400.5L370.9,400.5L372.2,399.4L373.4,399.4L374.7,398.4L375.9,398.4L377.2,397.4L378.4,396.4L379.7,396.4L380.9,395.4L382.2,395.4L383.4,394.4L384.7,393.3L385.9,393.3L387.2,392.3L388.4,392.3L389.7,391.3L390.9,391.3L392.1,390.3L393.4,389.3L394.6,389.3L395.9,388.2L397.1,387.2L398.4,387.2L399.6,386.2L400.9,386.2L402.1,385.2L403.4,384.2L404.6,384.2L405.9,383.2L407.1,382.1L408.4,382.1L409.6,381.1L410.9,380.1L412.1,380.1L413.4,379.1L414.6,379.1L415.9,378.1L417.1,377.0L418.3,377.0L419.6,376.0L420.8,375.0L422.1,375.0L423.3,374.0L424.6,373.0L425.8,372.0L427.1,372.0L428.3,370.9L429.6,369.9L430.8,369.9L432.1,368.9L433.3,367.9L434.6,367.9L435.8,366.9L437.1,365.8L438.3,365.8L439.6,364.8L440.8,363.8L442.1,362.8L443.3,362.8L444.5,361.8L445.8,360.8L447.0,360.8L448.3,359.7L449.5,358.7L450.8,358.7L452.0,357.7L453.3,356.7L454.5,355.7L455.8,355.7L457.0,354.6L458.3,353.6L459.5,352.6L460.8,352.6L462.0,351.6L463.3,350.6L464.5,349.6L465.8,349.6L467.0,348.5L468.3,347.5L469.5,346.5L470.7,346.5L472.0,345.5L473.2,344.5L474.5,343.4L475.7,342.4L477.0,342.4L478.2,341.4L479.5,340.4L480.7,339.4L482.0,339.4L483.2,338.4L484.5,337.3L485.7,336.3L487.0,336.3L488.2,335.3L489.5,334.3L490.7,334.3L492.0,333.3L493.2,332.2L494.5,331.2L495.7,331.2L496.9,330.2L498.2,329.2L499.4,329.2L500.7,328.2L501.9,328.2L503.2,327.2L504.4,326.1L505.7,326.1L506.9,325.1L508.2,324.1L509.4,324.1L510.7,323.1L511.9,322.1L513.2,322.1L514.4,321.1L515.7,320.0L516.9,320.0L518.2,319.0L519.4,319.0L520.7,318.0L521.9,317.0L523.1,317.0L524.4,316.0L525.6,316.0L526.9,314.9L528.1,313.9L529.4,313.9L530.6,312.9L531.9,312.9L533.1,311.9L534.4,311.9L535.6,310.9L536.9,310.9L538.1,309.9L539.4,309.9L540.6,308.8L541.9,308.8L543.1,307.8L544.4,307.8L545.6,307.8L546.9,306.8L548.1,306.8L549.3,306.8L550.6,305.8L551.8,305.8L553.1,305.8L554.3,304.8L555.6,304.8L556.8,304.8L558.1,304.8L559.3,303.7L560.6,303.7L561.8,303.7L563.1,303.7L564.3,303.7L565.6,302.7L566.8,302.7L568.1,302.7L569.3,302.7L570.6,302.7L571.8,301.7L573.1,301.7L574.3,301.7L575.5,301.7L576.8,301.7L578.0,301.7L579.3,300.7L580.5,300.7L581.8,300.7L583.0,300.7L584.3,300.7L585.5,300.7L586.8,300.7L588.0,299.7L589.3,299.7L590.5,299.7L591.8,299.7L593.0,299.7L594.3,299.7L595.5,299.7L596.8,298.7L598.0,298.7L599.3,298.7L600.5,298.7L601.7,298.7L603.0,298.7L604.2,298.7L605.5,298.7L606.7,298.7L608.0,298.7L609.2,298.7L610.5,298.7L611.7,298.7L613.0,298.7L614.2,298.7L615.5,299.7L616.7,299.7L618.0,299.7L619.2,299.7L620.5,299.7L621.7,299.7L623.0,299.7L624.2,299.7L625.5,299.7L626.7,300.7L627.9,300.7L629.2,300.7L630.4,300.7L631.7,300.7L632.9,301.7L634.2,301.7L635.4,301.7L636.7,301.7L637.9,302.7L639.2,302.7L640.4,302.7L641.7,303.7L642.9,303.7L644.2,303.7L645.4,304.8L646.7,304.8L647.9,304.8L649.2,305.8L650.4,305.8L651.7,305.8L652.9,306.8L654.1,306.8L655.4,307.8L656.6,307.8L657.9,307.8L659.1,308.8L660.4,308.8L661.6,309.9L662.9,309.9L664.1,310.9L665.4,310.9L666.6,310.9L667.9,311.9L669.1,311.9L670.4,312.9L671.6,312.9L672.9,313.9L674.1,313.9L675.4,314.9L676.6,314.9L677.9,316.0L679.1,316.0L680.3,317.0L681.6,318.0L682.8,318.0L684.1,319.0L685.3,320.0L686.6,320.0L687.8,321.1L689.1,322.1L690.3,323.1L691.6,323.1L692.8,324.1L694.1,325.1L695.3,326.1L696.6,326.1L697.8,327.2L699.1,328.2L700.3,329.2L701.6,330.2L702.8,330.2L704.1,331.2L705.3,332.2L706.5,333.3L707.8,334.3L709.0,334.3L710.3,335.3L711.5,336.3L712.8,337.3L714.0,338.4L715.3,339.4L716.5,339.4L717.8,340.4L719.0,341.4L720.3,342.4L721.5,343.4L722.8,343.4L724.0,344.5L725.3,345.5L726.5,346.5L727.8,347.5L729.0,348.5L730.3,349.6L731.5,350.6L732.7,351.6L734.0,351.6L735.2,352.6L736.5,353.6L737.7,354.6L739.0,355.7L740.2,356.7L741.5,357.7L742.7,358.7L744.0,359.7L745.2,359.7L746.5,360.8L747.7,361.8L749.0,362.8L750.2,363.8L751.5,364.8L752.7,364.8L754.0,365.8L755.2,366.9L756.5,367.9L757.7,368.9L758.9,369.9L760.2,370.9L761.4,370.9L762.7,372.0L763.9,373.0L765.2,374.0L766.4,375.0L767.7,376.0L768.9,376.0L770.2,377.0L771.4,378.1L772.7,379.1L773.9,380.1L775.2,380.1L776.4,381.1L777.7,382.1L778.9,383.2L780.2,384.2L781.4,384.2L782.6,385.2L783.9,386.2L785.1,387.2L786.4,387.2L787.6,388.2L788.9,389.3L790.1,389.3L791.4,390.3L792.6,391.3L793.9,392.3L795.1,392.3L796.4,393.3L797.6,394.4L798.9,394.4L800.1,395.4L801.4,395.4L802.6,396.4L803.9,397.4L805.1,397.4L806.4,398.4L807.6,398.4L808.8,399.4L810.1,400.5L811.3,400.5L812.6,401.5L813.8,401.5L815.1,402.5L816.3,402.5L817.6,403.5L818.8,404.5L820.1,404.5L821.3,405.6L822.6,406.6L823.8,406.6L825.1,407.6L826.3,407.6L827.6,408.6L828.8,409.6L830.1,409.6L831.3,410.6L832.6,411.7L833.8,411.7L835.0,412.7L836.3,413.7L837.5,413.7L838.8,414.7L840.0,415.7L841.3,415.7L842.5,416.8L843.8,417.8L845.0,417.8L846.3,418.8L847.5,419.8L848.8,419.8L850.0,420.8L851.3,421.8L852.5,421.8L853.8,422.9L855.0,422.9L856.3,423.9L857.5,424.9L858.8,424.9L860.0,425.9L861.2,425.9L862.5,426.9L863.7,426.9L865.0,428.0L866.2,428.0L867.5,429.0L868.7,429.0L870.0,429.0L871.2,430.0L872.5,430.0L873.7,431.0L875.0,431.0L876.2,432.0L877.5,432.0L878.7,432.0L880.0,433.0L881.2,433.0L882.5,433.0L883.7,434.1L885.0,434.1L886.2,435.1L887.4,435.1L888.7,435.1L889.9,436.1L891.2,436.1L892.4,436.1L893.7,437.1L894.9,437.1L896.2,437.1L897.4,438.1L898.7,438.1L899.9,438.1L901.2,438.1L902.4,439.2L903.7,439.2L904.9,439.2L906.2,440.2L907.4,440.2L908.7,440.2L909.9,440.2L911.2,441.2L912.4,441.2L913.6,441.2L914.9,442.2L916.1,442.2L917.4,442.2L918.6,442.2L919.9,443.2L921.1,443.2L922.4,443.2L923.6,443.2L924.9,444.2L926.1,444.2L927.4,444.2L928.6,445.3L929.9,445.3L931.1,445.3L932.4,445.3L933.6,446.3L934.9,446.3L936.1,446.3L937.4,446.3L938.6,447.3L939.8,447.3L941.1,447.3L942.3,447.3L943.6,447.3L944.8,448.3L946.1,448.3L947.3,448.3L948.6,448.3L949.8,449.3L951.1,449.3L952.3,449.3L953.6,449.3L954.8,449.3L956.1,450.4L957.3,450.4L958.6,450.4L959.8,450.4L961.1,450.4L962.3,451.4L963.6,451.4L964.8,451.4L966.0,451.4L967.3,451.4L968.5,451.4L969.8,452.4L971.0,452.4L972.3,452.4L973.5,452.4L974.8,452.4L976.0,452.4L977.3,452.4L978.5,453.4L979.8,453.4L981.0,453.4L982.3,453.4L983.5,453.4L984.8,453.4L986.0,453.4L987.3,454.4L988.5,454.4L989.8,454.4L991.0,454.4" fill="none" stroke="#8b1010" stroke-width="1.4" stroke-linejoin="round" stroke-opacity="1"/>
<path d="M79.0,482.9L80.2,482.9L81.5,482.9L82.7,482.9L84.0,482.9L85.2,482.9L86.5,482.9L87.7,482.9L89.0,482.9L90.2,482.9L91.5,482.9L92.7,482.9L94.0,482.9L95.2,482.9L96.5,482.9L97.7,482.9L99.0,482.9L100.2,482.9L101.5,482.9L102.7,482.9L104.0,482.9L105.2,482.9L106.4,482.9L107.7,482.9L108.9,482.9L110.2,481.9L111.4,481.9L112.7,481.9L113.9,481.9L115.2,481.9L116.4,481.9L117.7,481.9L118.9,481.9L120.2,481.9L121.4,481.9L122.7,481.9L123.9,481.9L125.2,481.9L126.4,481.9L127.7,481.9L128.9,481.9L130.2,481.9L131.4,481.9L132.6,481.9L133.9,481.9L135.1,481.9L136.4,481.9L137.6,481.9L138.9,481.9L140.1,481.9L141.4,481.9L142.6,481.9L143.9,481.9L145.1,481.9L146.4,481.9L147.6,481.9L148.9,481.9L150.1,481.9L151.4,481.9L152.6,481.9L153.9,481.9L155.1,481.9L156.4,481.9L157.6,481.9L158.8,481.9L160.1,481.9L161.3,481.9L162.6,481.9L163.8,481.9L165.1,481.9L166.3,481.9L167.6,481.9L168.8,481.9L170.1,481.9L171.3,481.9L172.6,480.9L173.8,480.9L175.1,480.9L176.3,480.9L177.6,480.9L178.8,480.9L180.1,480.9L181.3,480.9L182.6,480.9L183.8,480.9L185.0,479.9L186.3,479.9L187.5,479.9L188.8,479.9L190.0,479.9L191.3,479.9L192.5,479.9L193.8,478.9L195.0,478.9L196.3,478.9L197.5,478.9L198.8,478.9L200.0,478.9L201.3,478.9L202.5,477.8L203.8,477.8L205.0,477.8L206.3,477.8L207.5,477.8L208.8,477.8L210.0,477.8L211.2,476.8L212.5,476.8L213.7,476.8L215.0,476.8L216.2,476.8L217.5,476.8L218.7,476.8L220.0,475.8L221.2,475.8L222.5,475.8L223.7,475.8L225.0,475.8L226.2,475.8L227.5,475.8L228.7,474.8L230.0,474.8L231.2,474.8L232.5,474.8L233.7,474.8L235.0,474.8L236.2,473.8L237.4,473.8L238.7,473.8L239.9,473.8L241.2,473.8L242.4,472.7L243.7,472.7L244.9,472.7L246.2,472.7L247.4,472.7L248.7,472.7L249.9,471.7L251.2,471.7L252.4,471.7L253.7,471.7L254.9,471.7L256.2,470.7L257.4,470.7L258.7,470.7L259.9,470.7L261.2,470.7L262.4,469.7L263.6,469.7L264.9,469.7L266.1,469.7L267.4,469.7L268.6,468.7L269.9,468.7L271.1,468.7L272.4,468.7L273.6,467.7L274.9,467.7L276.1,467.7L277.4,467.7L278.6,467.7L279.9,466.6L281.1,466.6L282.4,466.6L283.6,466.6L284.9,466.6L286.1,465.6L287.4,465.6L288.6,465.6L289.8,465.6L291.1,464.6L292.3,464.6L293.6,464.6L294.8,464.6L296.1,463.6L297.3,463.6L298.6,463.6L299.8,463.6L301.1,462.6L302.3,462.6L303.6,462.6L304.8,462.6L306.1,461.5L307.3,461.5L308.6,461.5L309.8,461.5L311.1,460.5L312.3,460.5L313.5,460.5L314.8,459.5L316.0,459.5L317.3,459.5L318.5,459.5L319.8,458.5L321.0,458.5L322.3,458.5L323.5,457.5L324.8,457.5L326.0,457.5L327.3,456.5L328.5,456.5L329.8,456.5L331.0,455.4L332.3,455.4L333.5,454.4L334.8,454.4L336.0,454.4L337.3,453.4L338.5,453.4L339.7,452.4L341.0,452.4L342.2,452.4L343.5,451.4L344.7,451.4L346.0,450.4L347.2,450.4L348.5,450.4L349.7,449.3L351.0,449.3L352.2,448.3L353.5,448.3L354.7,447.3L356.0,447.3L357.2,446.3L358.5,446.3L359.7,445.3L361.0,445.3L362.2,444.2L363.5,444.2L364.7,443.2L365.9,443.2L367.2,443.2L368.4,442.2L369.7,442.2L370.9,441.2L372.2,441.2L373.4,440.2L374.7,440.2L375.9,439.2L377.2,439.2L378.4,438.1L379.7,438.1L380.9,437.1L382.2,437.1L383.4,436.1L384.7,436.1L385.9,435.1L387.2,435.1L388.4,434.1L389.7,434.1L390.9,433.0L392.1,433.0L393.4,432.0L394.6,432.0L395.9,432.0L397.1,431.0L398.4,431.0L399.6,430.0L400.9,430.0L402.1,429.0L403.4,429.0L404.6,428.0L405.9,428.0L407.1,426.9L408.4,426.9L409.6,426.9L410.9,425.9L412.1,425.9L413.4,424.9L414.6,424.9L415.9,423.9L417.1,423.9L418.3,422.9L419.6,422.9L420.8,422.9L422.1,421.8L423.3,421.8L424.6,420.8L425.8,420.8L427.1,419.8L428.3,419.8L429.6,418.8L430.8,418.8L432.1,417.8L433.3,417.8L434.6,417.8L435.8,416.8L437.1,416.8L438.3,415.7L439.6,415.7L440.8,414.7L442.1,414.7L443.3,413.7L444.5,413.7L445.8,412.7L447.0,412.7L448.3,411.7L449.5,411.7L450.8,410.6L452.0,410.6L453.3,409.6L454.5,409.6L455.8,408.6L457.0,408.6L458.3,407.6L459.5,407.6L460.8,406.6L462.0,405.6L463.3,405.6L464.5,404.5L465.8,404.5L467.0,403.5L468.3,402.5L469.5,402.5L470.7,401.5L472.0,401.5L473.2,400.5L474.5,399.4L475.7,399.4L477.0,398.4L478.2,398.4L479.5,397.4L480.7,397.4L482.0,396.4L483.2,395.4L484.5,395.4L485.7,394.4L487.0,394.4L488.2,393.3L489.5,393.3L490.7,392.3L492.0,392.3L493.2,391.3L494.5,391.3L495.7,390.3L496.9,390.3L498.2,389.3L499.4,389.3L500.7,388.2L501.9,388.2L503.2,387.2L504.4,387.2L505.7,386.2L506.9,386.2L508.2,386.2L509.4,385.2L510.7,385.2L511.9,384.2L513.2,384.2L514.4,383.2L515.7,383.2L516.9,383.2L518.2,382.1L519.4,382.1L520.7,381.1L521.9,381.1L523.1,381.1L524.4,380.1L525.6,380.1L526.9,379.1L528.1,379.1L529.4,379.1L530.6,378.1L531.9,378.1L533.1,378.1L534.4,377.0L535.6,377.0L536.9,377.0L538.1,376.0L539.4,376.0L540.6,376.0L541.9,375.0L543.1,375.0L544.4,375.0L545.6,375.0L546.9,374.0L548.1,374.0L549.3,374.0L550.6,374.0L551.8,373.0L553.1,373.0L554.3,373.0L555.6,373.0L556.8,373.0L558.1,372.0L559.3,372.0L560.6,372.0L561.8,372.0L563.1,372.0L564.3,372.0L565.6,370.9L566.8,370.9L568.1,370.9L569.3,370.9L570.6,370.9L571.8,370.9L573.1,370.9L574.3,369.9L575.5,369.9L576.8,369.9L578.0,369.9L579.3,369.9L580.5,369.9L581.8,369.9L583.0,369.9L584.3,369.9L585.5,369.9L586.8,369.9L588.0,369.9L589.3,368.9L590.5,368.9L591.8,368.9L593.0,368.9L594.3,368.9L595.5,368.9L596.8,368.9L598.0,368.9L599.3,368.9L600.5,368.9L601.7,368.9L603.0,368.9L604.2,368.9L605.5,368.9L606.7,368.9L608.0,368.9L609.2,368.9L610.5,368.9L611.7,368.9L613.0,368.9L614.2,368.9L615.5,368.9L616.7,368.9L618.0,369.9L619.2,369.9L620.5,369.9L621.7,369.9L623.0,369.9L624.2,369.9L625.5,369.9L626.7,369.9L627.9,369.9L629.2,369.9L630.4,370.9L631.7,370.9L632.9,370.9L634.2,370.9L635.4,370.9L636.7,370.9L637.9,372.0L639.2,372.0L640.4,372.0L641.7,372.0L642.9,373.0L644.2,373.0L645.4,373.0L646.7,374.0L647.9,374.0L649.2,374.0L650.4,375.0L651.7,375.0L652.9,375.0L654.1,375.0L655.4,376.0L656.6,376.0L657.9,376.0L659.1,377.0L660.4,377.0L661.6,378.1L662.9,378.1L664.1,378.1L665.4,379.1L666.6,379.1L667.9,379.1L669.1,380.1L670.4,380.1L671.6,380.1L672.9,381.1L674.1,381.1L675.4,382.1L676.6,382.1L677.9,383.2L679.1,383.2L680.3,384.2L681.6,384.2L682.8,385.2L684.1,385.2L685.3,386.2L686.6,386.2L687.8,387.2L689.1,387.2L690.3,388.2L691.6,389.3L692.8,389.3L694.1,390.3L695.3,391.3L696.6,391.3L697.8,392.3L699.1,392.3L700.3,393.3L701.6,394.4L702.8,394.4L704.1,395.4L705.3,396.4L706.5,396.4L707.8,397.4L709.0,398.4L710.3,398.4L711.5,399.4L712.8,400.5L714.0,400.5L715.3,401.5L716.5,402.5L717.8,402.5L719.0,403.5L720.3,403.5L721.5,404.5L722.8,405.6L724.0,405.6L725.3,406.6L726.5,406.6L727.8,407.6L729.0,408.6L730.3,408.6L731.5,409.6L732.7,409.6L734.0,410.6L735.2,411.7L736.5,411.7L737.7,412.7L739.0,413.7L740.2,413.7L741.5,414.7L742.7,415.7L744.0,415.7L745.2,416.8L746.5,416.8L747.7,417.8L749.0,418.8L750.2,418.8L751.5,419.8L752.7,420.8L754.0,420.8L755.2,421.8L756.5,421.8L757.7,422.9L758.9,423.9L760.2,423.9L761.4,424.9L762.7,424.9L763.9,425.9L765.2,426.9L766.4,426.9L767.7,428.0L768.9,428.0L770.2,429.0L771.4,429.0L772.7,430.0L773.9,431.0L775.2,431.0L776.4,432.0L777.7,432.0L778.9,433.0L780.2,433.0L781.4,434.1L782.6,434.1L783.9,435.1L785.1,436.1L786.4,436.1L787.6,437.1L788.9,437.1L790.1,438.1L791.4,438.1L792.6,439.2L793.9,439.2L795.1,440.2L796.4,440.2L797.6,441.2L798.9,441.2L800.1,442.2L801.4,442.2L802.6,443.2L803.9,443.2L805.1,444.2L806.4,444.2L807.6,445.3L808.8,445.3L810.1,446.3L811.3,446.3L812.6,447.3L813.8,447.3L815.1,448.3L816.3,448.3L817.6,449.3L818.8,449.3L820.1,450.4L821.3,450.4L822.6,451.4L823.8,451.4L825.1,451.4L826.3,452.4L827.6,452.4L828.8,453.4L830.1,453.4L831.3,453.4L832.6,454.4L833.8,454.4L835.0,455.4L836.3,455.4L837.5,455.4L838.8,456.5L840.0,456.5L841.3,457.5L842.5,457.5L843.8,457.5L845.0,458.5L846.3,458.5L847.5,459.5L848.8,459.5L850.0,459.5L851.3,460.5L852.5,460.5L853.8,461.5L855.0,461.5L856.3,462.6L857.5,462.6L858.8,463.6L860.0,463.6L861.2,464.6L862.5,464.6L863.7,464.6L865.0,465.6L866.2,465.6L867.5,465.6L868.7,466.6L870.0,466.6L871.2,466.6L872.5,467.7L873.7,467.7L875.0,467.7L876.2,468.7L877.5,468.7L878.7,468.7L880.0,469.7L881.2,469.7L882.5,469.7L883.7,469.7L885.0,470.7L886.2,470.7L887.4,470.7L888.7,470.7L889.9,471.7L891.2,471.7L892.4,471.7L893.7,471.7L894.9,472.7L896.2,472.7L897.4,472.7L898.7,472.7L899.9,473.8L901.2,473.8L902.4,473.8L903.7,473.8L904.9,473.8L906.2,474.8L907.4,474.8L908.7,474.8L909.9,474.8L911.2,474.8L912.4,475.8L913.6,475.8L914.9,475.8L916.1,475.8L917.4,475.8L918.6,476.8L919.9,476.8L921.1,476.8L922.4,476.8L923.6,476.8L924.9,476.8L926.1,476.8L927.4,477.8L928.6,477.8L929.9,477.8L931.1,477.8L932.4,477.8L933.6,477.8L934.9,477.8L936.1,478.9L937.4,478.9L938.6,478.9L939.8,478.9L941.1,478.9L942.3,478.9L943.6,478.9L944.8,478.9L946.1,479.9L947.3,479.9L948.6,479.9L949.8,479.9L951.1,479.9L952.3,479.9L953.6,479.9L954.8,479.9L956.1,479.9L957.3,480.9L958.6,480.9L959.8,480.9L961.1,480.9L962.3,480.9L963.6,480.9L964.8,480.9L966.0,480.9L967.3,480.9L968.5,480.9L969.8,480.9L971.0,481.9L972.3,481.9L973.5,481.9L974.8,481.9L976.0,481.9L977.3,481.9L978.5,481.9L979.8,481.9L981.0,481.9L982.3,481.9L983.5,481.9L984.8,481.9L986.0,481.9L987.3,481.9L988.5,481.9L989.8,482.9L991.0,482.9" fill="none" stroke="#8b1010" stroke-width="1.4" stroke-linejoin="round" stroke-opacity="1"/>
<path d="M79.0,439.2L80.2,439.2L81.5,440.2L82.7,440.2L84.0,440.2L85.2,440.2L86.5,440.2L87.7,440.2L89.0,440.2L90.2,440.2L91.5,440.2L92.7,440.2L94.0,440.2L95.2,440.2L96.5,441.2L97.7,441.2L99.0,441.2L100.2,441.2L101.5,441.2L102.7,441.2L104.0,441.2L105.2,441.2L106.4,441.2L107.7,441.2L108.9,441.2L110.2,441.2L111.4,441.2L112.7,441.2L113.9,441.2L115.2,441.2L116.4,441.2L117.7,441.2L118.9,441.2L120.2,441.2L121.4,441.2L122.7,441.2L123.9,441.2L125.2,441.2L126.4,441.2L127.7,441.2L128.9,441.2L130.2,441.2L131.4,441.2L132.6,441.2L133.9,441.2L135.1,441.2L136.4,441.2L137.6,441.2L138.9,441.2L140.1,441.2L141.4,441.2L142.6,441.2L143.9,441.2L145.1,441.2L146.4,441.2L147.6,441.2L148.9,441.2L150.1,441.2L151.4,441.2L152.6,441.2L153.9,441.2L155.1,440.2L156.4,440.2L157.6,440.2L158.8,440.2L160.1,440.2L161.3,440.2L162.6,440.2L163.8,440.2L165.1,440.2L166.3,439.2L167.6,439.2L168.8,439.2L170.1,439.2L171.3,439.2L172.6,439.2L173.8,439.2L175.1,439.2L176.3,438.1L177.6,438.1L178.8,438.1L180.1,438.1L181.3,438.1L182.6,438.1L183.8,438.1L185.0,438.1L186.3,437.1L187.5,437.1L188.8,437.1L190.0,437.1L191.3,437.1L192.5,437.1L193.8,437.1L195.0,436.1L196.3,436.1L197.5,436.1L198.8,436.1L200.0,436.1L201.3,436.1L202.5,436.1L203.8,435.1L205.0,435.1L206.3,435.1L207.5,435.1L208.8,435.1L210.0,435.1L211.2,434.1L212.5,434.1L213.7,434.1L215.0,434.1L216.2,434.1L217.5,434.1L218.7,433.0L220.0,433.0L221.2,433.0L222.5,433.0L223.7,433.0L225.0,432.0L226.2,432.0L227.5,432.0L228.7,432.0L230.0,432.0L231.2,432.0L232.5,431.0L233.7,431.0L235.0,431.0L236.2,431.0L237.4,430.0L238.7,430.0L239.9,430.0L241.2,430.0L242.4,430.0L243.7,429.0L244.9,429.0L246.2,429.0L247.4,429.0L248.7,428.0L249.9,428.0L251.2,428.0L252.4,428.0L253.7,426.9L254.9,426.9L256.2,426.9L257.4,426.9L258.7,425.9L259.9,425.9L261.2,425.9L262.4,425.9L263.6,424.9L264.9,424.9L266.1,424.9L267.4,423.9L268.6,423.9L269.9,423.9L271.1,423.9L272.4,422.9L273.6,422.9L274.9,422.9L276.1,421.8L277.4,421.8L278.6,420.8L279.9,420.8L281.1,420.8L282.4,419.8L283.6,419.8L284.9,418.8L286.1,418.8L287.4,418.8L288.6,417.8L289.8,417.8L291.1,416.8L292.3,416.8L293.6,415.7L294.8,415.7L296.1,414.7L297.3,414.7L298.6,414.7L299.8,413.7L301.1,413.7L302.3,412.7L303.6,412.7L304.8,411.7L306.1,411.7L307.3,410.6L308.6,410.6L309.8,410.6L311.1,409.6L312.3,409.6L313.5,408.6L314.8,408.6L316.0,407.6L317.3,407.6L318.5,406.6L319.8,406.6L321.0,405.6L322.3,405.6L323.5,404.5L324.8,404.5L326.0,403.5L327.3,403.5L328.5,402.5L329.8,402.5L331.0,401.5L332.3,400.5L333.5,400.5L334.8,399.4L336.0,399.4L337.3,398.4L338.5,398.4L339.7,397.4L341.0,396.4L342.2,396.4L343.5,395.4L344.7,395.4L346.0,394.4L347.2,393.3L348.5,393.3L349.7,392.3L351.0,392.3L352.2,391.3L353.5,391.3L354.7,390.3L356.0,389.3L357.2,389.3L358.5,388.2L359.7,388.2L361.0,387.2L362.2,386.2L363.5,386.2L364.7,385.2L365.9,384.2L367.2,384.2L368.4,383.2L369.7,383.2L370.9,382.1L372.2,381.1L373.4,381.1L374.7,380.1L375.9,379.1L377.2,379.1L378.4,378.1L379.7,378.1L380.9,377.0L382.2,376.0L383.4,376.0L384.7,375.0L385.9,374.0L387.2,374.0L388.4,373.0L389.7,372.0L390.9,372.0L392.1,370.9L393.4,369.9L394.6,368.9L395.9,368.9L397.1,367.9L398.4,366.9L399.6,366.9L400.9,365.8L402.1,364.8L403.4,363.8L404.6,363.8L405.9,362.8L407.1,361.8L408.4,360.8L409.6,360.8L410.9,359.7L412.1,358.7L413.4,357.7L414.6,356.7L415.9,355.7L417.1,355.7L418.3,354.6L419.6,353.6L420.8,352.6L422.1,351.6L423.3,350.6L424.6,349.6L425.8,349.6L427.1,348.5L428.3,347.5L429.6,346.5L430.8,345.5L432.1,344.5L433.3,343.4L434.6,343.4L435.8,342.4L437.1,341.4L438.3,340.4L439.6,339.4L440.8,338.4L442.1,337.3L443.3,337.3L444.5,336.3L445.8,335.3L447.0,334.3L448.3,333.3L449.5,333.3L450.8,332.2L452.0,331.2L453.3,330.2L454.5,329.2L455.8,329.2L457.0,328.2L458.3,327.2L459.5,326.1L460.8,325.1L462.0,325.1L463.3,324.1L464.5,323.1L465.8,322.1L467.0,321.1L468.3,321.1L469.5,320.0L470.7,319.0L472.0,318.0L473.2,318.0L474.5,317.0L475.7,316.0L477.0,314.9L478.2,313.9L479.5,313.9L480.7,312.9L482.0,311.9L483.2,310.9L484.5,310.9L485.7,309.9L487.0,308.8L488.2,307.8L489.5,307.8L490.7,306.8L492.0,305.8L493.2,304.8L494.5,304.8L495.7,303.7L496.9,302.7L498.2,302.7L499.4,301.7L500.7,300.7L501.9,299.7L503.2,299.7L504.4,298.7L505.7,297.6L506.9,297.6L508.2,296.6L509.4,295.6L510.7,294.6L511.9,294.6L513.2,293.6L514.4,292.5L515.7,292.5L516.9,291.5L518.2,290.5L519.4,289.5L520.7,289.5L521.9,288.5L523.1,287.5L524.4,287.5L525.6,286.4L526.9,285.4L528.1,285.4L529.4,284.4L530.6,284.4L531.9,283.4L533.1,282.4L534.4,282.4L535.6,281.3L536.9,281.3L538.1,280.3L539.4,280.3L540.6,279.3L541.9,279.3L543.1,279.3L544.4,278.3L545.6,278.3L546.9,277.3L548.1,277.3L549.3,277.3L550.6,276.3L551.8,276.3L553.1,275.2L554.3,275.2L555.6,275.2L556.8,274.2L558.1,274.2L559.3,273.2L560.6,273.2L561.8,273.2L563.1,272.2L564.3,272.2L565.6,272.2L566.8,272.2L568.1,271.2L569.3,271.2L570.6,271.2L571.8,270.1L573.1,270.1L574.3,270.1L575.5,270.1L576.8,269.1L578.0,269.1L579.3,269.1L580.5,269.1L581.8,269.1L583.0,268.1L584.3,268.1L585.5,268.1L586.8,268.1L588.0,268.1L589.3,268.1L590.5,267.1L591.8,267.1L593.0,267.1L594.3,267.1L595.5,267.1L596.8,267.1L598.0,267.1L599.3,267.1L600.5,266.1L601.7,266.1L603.0,266.1L604.2,266.1L605.5,266.1L606.7,266.1L608.0,266.1L609.2,266.1L610.5,266.1L611.7,266.1L613.0,267.1L614.2,267.1L615.5,267.1L616.7,267.1L618.0,267.1L619.2,267.1L620.5,267.1L621.7,268.1L623.0,268.1L624.2,268.1L625.5,268.1L626.7,268.1L627.9,268.1L629.2,269.1L630.4,269.1L631.7,269.1L632.9,269.1L634.2,270.1L635.4,270.1L636.7,270.1L637.9,270.1L639.2,270.1L640.4,271.2L641.7,271.2L642.9,271.2L644.2,271.2L645.4,272.2L646.7,272.2L647.9,272.2L649.2,273.2L650.4,273.2L651.7,273.2L652.9,273.2L654.1,274.2L655.4,274.2L656.6,274.2L657.9,275.2L659.1,275.2L660.4,276.3L661.6,276.3L662.9,276.3L664.1,277.3L665.4,277.3L666.6,277.3L667.9,278.3L669.1,278.3L670.4,279.3L671.6,279.3L672.9,279.3L674.1,280.3L675.4,281.3L676.6,281.3L677.9,282.4L679.1,282.4L680.3,283.4L681.6,284.4L682.8,284.4L684.1,285.4L685.3,286.4L686.6,286.4L687.8,287.5L689.1,288.5L690.3,289.5L691.6,290.5L692.8,291.5L694.1,291.5L695.3,292.5L696.6,293.6L697.8,294.6L699.1,295.6L700.3,296.6L701.6,297.6L702.8,298.7L704.1,299.7L705.3,300.7L706.5,300.7L707.8,301.7L709.0,302.7L710.3,303.7L711.5,304.8L712.8,305.8L714.0,306.8L715.3,307.8L716.5,308.8L717.8,309.9L719.0,310.9L720.3,311.9L721.5,311.9L722.8,312.9L724.0,313.9L725.3,314.9L726.5,316.0L727.8,317.0L729.0,318.0L730.3,319.0L731.5,320.0L732.7,321.1L734.0,322.1L735.2,323.1L736.5,324.1L737.7,325.1L739.0,326.1L740.2,327.2L741.5,328.2L742.7,329.2L744.0,330.2L745.2,331.2L746.5,332.2L747.7,333.3L749.0,334.3L750.2,335.3L751.5,336.3L752.7,337.3L754.0,338.4L755.2,339.4L756.5,340.4L757.7,341.4L758.9,342.4L760.2,343.4L761.4,344.5L762.7,345.5L763.9,346.5L765.2,347.5L766.4,347.5L767.7,348.5L768.9,349.6L770.2,350.6L771.4,351.6L772.7,352.6L773.9,353.6L775.2,354.6L776.4,355.7L777.7,356.7L778.9,357.7L780.2,358.7L781.4,358.7L782.6,359.7L783.9,360.8L785.1,361.8L786.4,362.8L787.6,363.8L788.9,364.8L790.1,365.8L791.4,365.8L792.6,366.9L793.9,367.9L795.1,368.9L796.4,369.9L797.6,370.9L798.9,370.9L800.1,372.0L801.4,373.0L802.6,374.0L803.9,374.0L805.1,375.0L806.4,376.0L807.6,377.0L808.8,378.1L810.1,378.1L811.3,379.1L812.6,380.1L813.8,380.1L815.1,381.1L816.3,382.1L817.6,383.2L818.8,383.2L820.1,384.2L821.3,385.2L822.6,385.2L823.8,386.2L825.1,387.2L826.3,388.2L827.6,388.2L828.8,389.3L830.1,390.3L831.3,391.3L832.6,391.3L833.8,392.3L835.0,393.3L836.3,393.3L837.5,394.4L838.8,395.4L840.0,396.4L841.3,396.4L842.5,397.4L843.8,398.4L845.0,398.4L846.3,399.4L847.5,400.5L848.8,400.5L850.0,401.5L851.3,402.5L852.5,402.5L853.8,403.5L855.0,404.5L856.3,404.5L857.5,405.6L858.8,405.6L860.0,406.6L861.2,406.6L862.5,407.6L863.7,408.6L865.0,408.6L866.2,409.6L867.5,409.6L868.7,410.6L870.0,410.6L871.2,411.7L872.5,411.7L873.7,412.7L875.0,412.7L876.2,413.7L877.5,413.7L878.7,413.7L880.0,414.7L881.2,414.7L882.5,415.7L883.7,415.7L885.0,416.8L886.2,416.8L887.4,417.8L888.7,417.8L889.9,417.8L891.2,418.8L892.4,418.8L893.7,419.8L894.9,419.8L896.2,419.8L897.4,420.8L898.7,420.8L899.9,420.8L901.2,421.8L902.4,421.8L903.7,422.9L904.9,422.9L906.2,422.9L907.4,423.9L908.7,423.9L909.9,423.9L911.2,424.9L912.4,424.9L913.6,424.9L914.9,425.9L916.1,425.9L917.4,425.9L918.6,425.9L919.9,426.9L921.1,426.9L922.4,426.9L923.6,428.0L924.9,428.0L926.1,428.0L927.4,429.0L928.6,429.0L929.9,429.0L931.1,429.0L932.4,430.0L933.6,430.0L934.9,430.0L936.1,430.0L937.4,431.0L938.6,431.0L939.8,431.0L941.1,431.0L942.3,432.0L943.6,432.0L944.8,432.0L946.1,432.0L947.3,433.0L948.6,433.0L949.8,433.0L951.1,433.0L952.3,434.1L953.6,434.1L954.8,434.1L956.1,434.1L957.3,434.1L958.6,435.1L959.8,435.1L961.1,435.1L962.3,435.1L963.6,435.1L964.8,436.1L966.0,436.1L967.3,436.1L968.5,436.1L969.8,436.1L971.0,437.1L972.3,437.1L973.5,437.1L974.8,437.1L976.0,437.1L977.3,438.1L978.5,438.1L979.8,438.1L981.0,438.1L982.3,438.1L983.5,438.1L984.8,439.2L986.0,439.2L987.3,439.2L988.5,439.2L989.8,439.2L991.0,439.2" fill="none" stroke="#d9a24a" stroke-width="1.4" stroke-linejoin="round" stroke-opacity="1"/>
<path d="M79.0,491.1L80.2,492.1L81.5,492.1L82.7,492.1L84.0,492.1L85.2,492.1L86.5,492.1L87.7,492.1L89.0,493.1L90.2,493.1L91.5,493.1L92.7,493.1L94.0,493.1L95.2,493.1L96.5,493.1L97.7,493.1L99.0,493.1L100.2,493.1L101.5,493.1L102.7,493.1L104.0,493.1L105.2,493.1L106.4,493.1L107.7,493.1L108.9,493.1L110.2,493.1L111.4,493.1L112.7,493.1L113.9,493.1L115.2,493.1L116.4,493.1L117.7,493.1L118.9,493.1L120.2,493.1L121.4,493.1L122.7,493.1L123.9,493.1L125.2,493.1L126.4,493.1L127.7,493.1L128.9,493.1L130.2,493.1L131.4,493.1L132.6,493.1L133.9,493.1L135.1,493.1L136.4,493.1L137.6,493.1L138.9,493.1L140.1,493.1L141.4,493.1L142.6,493.1L143.9,493.1L145.1,493.1L146.4,493.1L147.6,493.1L148.9,493.1L150.1,492.1L151.4,492.1L152.6,492.1L153.9,492.1L155.1,492.1L156.4,492.1L157.6,492.1L158.8,492.1L160.1,492.1L161.3,492.1L162.6,492.1L163.8,492.1L165.1,491.1L166.3,491.1L167.6,491.1L168.8,491.1L170.1,491.1L171.3,491.1L172.6,491.1L173.8,491.1L175.1,491.1L176.3,491.1L177.6,491.1L178.8,491.1L180.1,491.1L181.3,490.1L182.6,490.1L183.8,490.1L185.0,490.1L186.3,490.1L187.5,490.1L188.8,490.1L190.0,490.1L191.3,490.1L192.5,490.1L193.8,490.1L195.0,490.1L196.3,489.0L197.5,489.0L198.8,489.0L200.0,489.0L201.3,489.0L202.5,489.0L203.8,489.0L205.0,489.0L206.3,489.0L207.5,489.0L208.8,488.0L210.0,488.0L211.2,488.0L212.5,488.0L213.7,488.0L215.0,488.0L216.2,488.0L217.5,488.0L218.7,488.0L220.0,487.0L221.2,487.0L222.5,487.0L223.7,487.0L225.0,487.0L226.2,487.0L227.5,487.0L228.7,487.0L230.0,486.0L231.2,486.0L232.5,486.0L233.7,486.0L235.0,486.0L236.2,486.0L237.4,486.0L238.7,486.0L239.9,485.0L241.2,485.0L242.4,485.0L243.7,485.0L244.9,485.0L246.2,485.0L247.4,483.9L248.7,483.9L249.9,483.9L251.2,483.9L252.4,483.9L253.7,483.9L254.9,482.9L256.2,482.9L257.4,482.9L258.7,482.9L259.9,482.9L261.2,482.9L262.4,481.9L263.6,481.9L264.9,481.9L266.1,481.9L267.4,481.9L268.6,481.9L269.9,480.9L271.1,480.9L272.4,480.9L273.6,480.9L274.9,480.9L276.1,479.9L277.4,479.9L278.6,479.9L279.9,479.9L281.1,479.9L282.4,479.9L283.6,478.9L284.9,478.9L286.1,478.9L287.4,478.9L288.6,478.9L289.8,477.8L291.1,477.8L292.3,477.8L293.6,477.8L294.8,477.8L296.1,476.8L297.3,476.8L298.6,476.8L299.8,476.8L301.1,475.8L302.3,475.8L303.6,475.8L304.8,475.8L306.1,475.8L307.3,474.8L308.6,474.8L309.8,474.8L311.1,474.8L312.3,473.8L313.5,473.8L314.8,473.8L316.0,473.8L317.3,472.7L318.5,472.7L319.8,472.7L321.0,472.7L322.3,471.7L323.5,471.7L324.8,471.7L326.0,470.7L327.3,470.7L328.5,470.7L329.8,469.7L331.0,469.7L332.3,469.7L333.5,468.7L334.8,468.7L336.0,468.7L337.3,467.7L338.5,467.7L339.7,466.6L341.0,466.6L342.2,466.6L343.5,465.6L344.7,465.6L346.0,465.6L347.2,464.6L348.5,464.6L349.7,463.6L351.0,463.6L352.2,462.6L353.5,462.6L354.7,462.6L356.0,461.5L357.2,461.5L358.5,460.5L359.7,460.5L361.0,460.5L362.2,459.5L363.5,459.5L364.7,458.5L365.9,458.5L367.2,458.5L368.4,457.5L369.7,457.5L370.9,456.5L372.2,456.5L373.4,455.4L374.7,455.4L375.9,455.4L377.2,454.4L378.4,454.4L379.7,453.4L380.9,453.4L382.2,452.4L383.4,452.4L384.7,452.4L385.9,451.4L387.2,451.4L388.4,450.4L389.7,450.4L390.9,449.3L392.1,449.3L393.4,448.3L394.6,448.3L395.9,448.3L397.1,447.3L398.4,447.3L399.6,446.3L400.9,446.3L402.1,445.3L403.4,445.3L404.6,445.3L405.9,444.2L407.1,444.2L408.4,443.2L409.6,443.2L410.9,443.2L412.1,442.2L413.4,442.2L414.6,441.2L415.9,441.2L417.1,441.2L418.3,440.2L419.6,440.2L420.8,439.2L422.1,439.2L423.3,439.2L424.6,438.1L425.8,438.1L427.1,438.1L428.3,437.1L429.6,437.1L430.8,436.1L432.1,436.1L433.3,436.1L434.6,435.1L435.8,435.1L437.1,434.1L438.3,434.1L439.6,434.1L440.8,433.0L442.1,433.0L443.3,432.0L444.5,432.0L445.8,431.0L447.0,431.0L448.3,431.0L449.5,430.0L450.8,430.0L452.0,429.0L453.3,429.0L454.5,428.0L455.8,428.0L457.0,426.9L458.3,426.9L459.5,425.9L460.8,425.9L462.0,424.9L463.3,424.9L464.5,423.9L465.8,422.9L467.0,422.9L468.3,421.8L469.5,421.8L470.7,420.8L472.0,420.8L473.2,419.8L474.5,418.8L475.7,418.8L477.0,417.8L478.2,417.8L479.5,416.8L480.7,416.8L482.0,415.7L483.2,415.7L484.5,414.7L485.7,413.7L487.0,413.7L488.2,412.7L489.5,412.7L490.7,411.7L492.0,411.7L493.2,410.6L494.5,410.6L495.7,410.6L496.9,409.6L498.2,409.6L499.4,408.6L500.7,408.6L501.9,408.6L503.2,407.6L504.4,407.6L505.7,406.6L506.9,406.6L508.2,406.6L509.4,405.6L510.7,405.6L511.9,405.6L513.2,404.5L514.4,404.5L515.7,403.5L516.9,403.5L518.2,403.5L519.4,402.5L520.7,402.5L521.9,402.5L523.1,401.5L524.4,401.5L525.6,401.5L526.9,400.5L528.1,400.5L529.4,400.5L530.6,399.4L531.9,399.4L533.1,399.4L534.4,399.4L535.6,398.4L536.9,398.4L538.1,398.4L539.4,398.4L540.6,397.4L541.9,397.4L543.1,397.4L544.4,397.4L545.6,396.4L546.9,396.4L548.1,396.4L549.3,396.4L550.6,396.4L551.8,396.4L553.1,395.4L554.3,395.4L555.6,395.4L556.8,395.4L558.1,395.4L559.3,395.4L560.6,395.4L561.8,394.4L563.1,394.4L564.3,394.4L565.6,394.4L566.8,394.4L568.1,394.4L569.3,394.4L570.6,394.4L571.8,394.4L573.1,393.3L574.3,393.3L575.5,393.3L576.8,393.3L578.0,393.3L579.3,393.3L580.5,393.3L581.8,393.3L583.0,393.3L584.3,393.3L585.5,393.3L586.8,393.3L588.0,393.3L589.3,393.3L590.5,393.3L591.8,393.3L593.0,393.3L594.3,393.3L595.5,393.3L596.8,392.3L598.0,392.3L599.3,392.3L600.5,392.3L601.7,392.3L603.0,392.3L604.2,392.3L605.5,393.3L606.7,393.3L608.0,393.3L609.2,393.3L610.5,393.3L611.7,393.3L613.0,393.3L614.2,393.3L615.5,393.3L616.7,393.3L618.0,393.3L619.2,393.3L620.5,393.3L621.7,393.3L623.0,393.3L624.2,393.3L625.5,393.3L626.7,393.3L627.9,393.3L629.2,394.4L630.4,394.4L631.7,394.4L632.9,394.4L634.2,394.4L635.4,394.4L636.7,395.4L637.9,395.4L639.2,395.4L640.4,395.4L641.7,395.4L642.9,396.4L644.2,396.4L645.4,396.4L646.7,396.4L647.9,397.4L649.2,397.4L650.4,397.4L651.7,398.4L652.9,398.4L654.1,398.4L655.4,398.4L656.6,399.4L657.9,399.4L659.1,399.4L660.4,400.5L661.6,400.5L662.9,400.5L664.1,401.5L665.4,401.5L666.6,401.5L667.9,401.5L669.1,402.5L670.4,402.5L671.6,402.5L672.9,403.5L674.1,403.5L675.4,404.5L676.6,404.5L677.9,404.5L679.1,405.6L680.3,405.6L681.6,406.6L682.8,406.6L684.1,407.6L685.3,407.6L686.6,408.6L687.8,408.6L689.1,409.6L690.3,409.6L691.6,410.6L692.8,410.6L694.1,411.7L695.3,412.7L696.6,412.7L697.8,413.7L699.1,413.7L700.3,414.7L701.6,414.7L702.8,415.7L704.1,416.8L705.3,416.8L706.5,417.8L707.8,417.8L709.0,418.8L710.3,419.8L711.5,419.8L712.8,420.8L714.0,420.8L715.3,421.8L716.5,421.8L717.8,422.9L719.0,422.9L720.3,423.9L721.5,424.9L722.8,424.9L724.0,425.9L725.3,425.9L726.5,426.9L727.8,426.9L729.0,428.0L730.3,428.0L731.5,429.0L732.7,429.0L734.0,430.0L735.2,430.0L736.5,431.0L737.7,431.0L739.0,432.0L740.2,432.0L741.5,433.0L742.7,434.1L744.0,434.1L745.2,435.1L746.5,435.1L747.7,436.1L749.0,436.1L750.2,437.1L751.5,437.1L752.7,438.1L754.0,438.1L755.2,439.2L756.5,439.2L757.7,440.2L758.9,440.2L760.2,441.2L761.4,441.2L762.7,442.2L763.9,442.2L765.2,443.2L766.4,443.2L767.7,444.2L768.9,444.2L770.2,445.3L771.4,445.3L772.7,446.3L773.9,446.3L775.2,447.3L776.4,447.3L777.7,448.3L778.9,448.3L780.2,449.3L781.4,449.3L782.6,449.3L783.9,450.4L785.1,450.4L786.4,451.4L787.6,451.4L788.9,452.4L790.1,452.4L791.4,452.4L792.6,453.4L793.9,453.4L795.1,454.4L796.4,454.4L797.6,455.4L798.9,455.4L800.1,456.5L801.4,456.5L802.6,457.5L803.9,457.5L805.1,457.5L806.4,458.5L807.6,458.5L808.8,459.5L810.1,460.5L811.3,460.5L812.6,461.5L813.8,461.5L815.1,462.6L816.3,462.6L817.6,463.6L818.8,463.6L820.1,464.6L821.3,464.6L822.6,465.6L823.8,465.6L825.1,466.6L826.3,466.6L827.6,467.7L828.8,467.7L830.1,467.7L831.3,468.7L832.6,468.7L833.8,469.7L835.0,469.7L836.3,469.7L837.5,470.7L838.8,470.7L840.0,470.7L841.3,471.7L842.5,471.7L843.8,472.7L845.0,472.7L846.3,472.7L847.5,473.8L848.8,473.8L850.0,473.8L851.3,474.8L852.5,474.8L853.8,474.8L855.0,475.8L856.3,475.8L857.5,475.8L858.8,475.8L860.0,476.8L861.2,476.8L862.5,476.8L863.7,477.8L865.0,477.8L866.2,477.8L867.5,477.8L868.7,478.9L870.0,478.9L871.2,478.9L872.5,478.9L873.7,479.9L875.0,479.9L876.2,479.9L877.5,479.9L878.7,479.9L880.0,480.9L881.2,480.9L882.5,480.9L883.7,480.9L885.0,481.9L886.2,481.9L887.4,481.9L888.7,481.9L889.9,481.9L891.2,482.9L892.4,482.9L893.7,482.9L894.9,482.9L896.2,482.9L897.4,483.9L898.7,483.9L899.9,483.9L901.2,483.9L902.4,483.9L903.7,483.9L904.9,485.0L906.2,485.0L907.4,485.0L908.7,485.0L909.9,485.0L911.2,485.0L912.4,486.0L913.6,486.0L914.9,486.0L916.1,486.0L917.4,486.0L918.6,486.0L919.9,486.0L921.1,487.0L922.4,487.0L923.6,487.0L924.9,487.0L926.1,487.0L927.4,487.0L928.6,487.0L929.9,487.0L931.1,488.0L932.4,488.0L933.6,488.0L934.9,488.0L936.1,488.0L937.4,488.0L938.6,488.0L939.8,488.0L941.1,488.0L942.3,489.0L943.6,489.0L944.8,489.0L946.1,489.0L947.3,489.0L948.6,489.0L949.8,489.0L951.1,489.0L952.3,489.0L953.6,489.0L954.8,490.1L956.1,490.1L957.3,490.1L958.6,490.1L959.8,490.1L961.1,490.1L962.3,490.1L963.6,490.1L964.8,490.1L966.0,490.1L967.3,490.1L968.5,490.1L969.8,491.1L971.0,491.1L972.3,491.1L973.5,491.1L974.8,491.1L976.0,491.1L977.3,491.1L978.5,491.1L979.8,491.1L981.0,491.1L982.3,491.1L983.5,491.1L984.8,491.1L986.0,491.1L987.3,491.1L988.5,492.1L989.8,492.1L991.0,492.1" fill="none" stroke="#22a59f" stroke-width="1.4" stroke-linejoin="round" stroke-opacity="1"/>
<path d="M79.0,407.5L80.2,407.6L81.5,407.6L82.7,407.7L84.0,407.7L85.2,407.8L86.5,407.8L87.7,407.9L89.0,407.9L90.2,408.0L91.5,408.0L92.7,408.1L94.0,408.1L95.2,408.1L96.5,408.2L97.7,408.2L99.0,408.3L100.2,408.3L101.5,408.3L102.7,408.4L104.0,408.4L105.2,408.4L106.4,408.5L107.7,408.5L108.9,408.5L110.2,408.5L111.4,408.5L112.7,408.6L113.9,408.6L115.2,408.6L116.4,408.6L117.7,408.6L118.9,408.6L120.2,408.6L121.4,408.6L122.7,408.6L123.9,408.6L125.2,408.6L126.4,408.6L127.7,408.6L128.9,408.6L130.2,408.6L131.4,408.6L132.6,408.6L133.9,408.5L135.1,408.5L136.4,408.5L137.6,408.5L138.9,408.5L140.1,408.5L141.4,408.5L142.6,408.5L143.9,408.4L145.1,408.4L146.4,408.4L147.6,408.4L148.9,408.4L150.1,408.4L151.4,408.3L152.6,408.3L153.9,408.3L155.1,408.3L156.4,408.3L157.6,408.2L158.8,408.2L160.1,408.2L161.3,408.2L162.6,408.2L163.8,408.1L165.1,408.1L166.3,408.1L167.6,408.1L168.8,408.0L170.1,408.0L171.3,408.0L172.6,407.9L173.8,407.9L175.1,407.8L176.3,407.8L177.6,407.7L178.8,407.6L180.1,407.5L181.3,407.4L182.6,407.3L183.8,407.2L185.0,407.1L186.3,407.0L187.5,406.9L188.8,406.7L190.0,406.6L191.3,406.5L192.5,406.3L193.8,406.2L195.0,406.0L196.3,405.9L197.5,405.7L198.8,405.6L200.0,405.4L201.3,405.2L202.5,405.1L203.8,404.9L205.0,404.7L206.3,404.5L207.5,404.3L208.8,404.2L210.0,404.0L211.2,403.8L212.5,403.6L213.7,403.4L215.0,403.2L216.2,403.1L217.5,402.9L218.7,402.7L220.0,402.5L221.2,402.3L222.5,402.1L223.7,401.9L225.0,401.7L226.2,401.5L227.5,401.3L228.7,401.1L230.0,400.9L231.2,400.6L232.5,400.4L233.7,400.1L235.0,399.9L236.2,399.6L237.4,399.4L238.7,399.1L239.9,398.9L241.2,398.6L242.4,398.3L243.7,398.0L244.9,397.8L246.2,397.5L247.4,397.2L248.7,396.9L249.9,396.6L251.2,396.3L252.4,396.0L253.7,395.7L254.9,395.3L256.2,395.0L257.4,394.7L258.7,394.4L259.9,394.0L261.2,393.7L262.4,393.4L263.6,393.0L264.9,392.7L266.1,392.3L267.4,392.0L268.6,391.6L269.9,391.3L271.1,390.9L272.4,390.5L273.6,390.1L274.9,389.7L276.1,389.3L277.4,388.9L278.6,388.5L279.9,388.0L281.1,387.5L282.4,387.1L283.6,386.6L284.9,386.1L286.1,385.6L287.4,385.1L288.6,384.6L289.8,384.1L291.1,383.6L292.3,383.1L293.6,382.6L294.8,382.1L296.1,381.6L297.3,381.1L298.6,380.6L299.8,380.1L301.1,379.6L302.3,379.1L303.6,378.6L304.8,378.1L306.1,377.5L307.3,377.0L308.6,376.5L309.8,376.0L311.1,375.5L312.3,374.9L313.5,374.4L314.8,373.8L316.0,373.2L317.3,372.6L318.5,372.0L319.8,371.4L321.0,370.7L322.3,370.0L323.5,369.3L324.8,368.5L326.0,367.8L327.3,367.0L328.5,366.1L329.8,365.3L331.0,364.5L332.3,363.6L333.5,362.7L334.8,361.8L336.0,361.0L337.3,360.1L338.5,359.2L339.7,358.3L341.0,357.4L342.2,356.5L343.5,355.6L344.7,354.8L346.0,353.9L347.2,353.1L348.5,352.2L349.7,351.4L351.0,350.6L352.2,349.8L353.5,349.1L354.7,348.3L356.0,347.5L357.2,346.8L358.5,346.0L359.7,345.3L361.0,344.5L362.2,343.8L363.5,343.1L364.7,342.3L365.9,341.6L367.2,340.9L368.4,340.2L369.7,339.4L370.9,338.7L372.2,338.0L373.4,337.3L374.7,336.6L375.9,335.8L377.2,335.1L378.4,334.4L379.7,333.7L380.9,332.9L382.2,332.2L383.4,331.5L384.7,330.7L385.9,330.0L387.2,329.3L388.4,328.5L389.7,327.8L390.9,327.0L392.1,326.2L393.4,325.5L394.6,324.7L395.9,323.9L397.1,323.1L398.4,322.3L399.6,321.5L400.9,320.7L402.1,319.8L403.4,319.0L404.6,318.2L405.9,317.4L407.1,316.5L408.4,315.7L409.6,314.8L410.9,313.9L412.1,313.1L413.4,312.2L414.6,311.3L415.9,310.5L417.1,309.6L418.3,308.7L419.6,307.8L420.8,306.9L422.1,305.9L423.3,305.0L424.6,304.1L425.8,303.2L427.1,302.2L428.3,301.3L429.6,300.3L430.8,299.4L432.1,298.4L433.3,297.4L434.6,296.3L435.8,295.3L437.1,294.2L438.3,293.2L439.6,292.1L440.8,291.0L442.1,290.0L443.3,288.9L444.5,287.8L445.8,286.8L447.0,285.7L448.3,284.7L449.5,283.7L450.8,282.7L452.0,281.7L453.3,280.7L454.5,279.7L455.8,278.8L457.0,277.8L458.3,276.9L459.5,276.0L460.8,275.0L462.0,274.1L463.3,273.2L464.5,272.3L465.8,271.3L467.0,270.4L468.3,269.5L469.5,268.6L470.7,267.7L472.0,266.7L473.2,265.8L474.5,264.9L475.7,263.9L477.0,263.0L478.2,262.1L479.5,261.1L480.7,260.1L482.0,259.1L483.2,258.2L484.5,257.2L485.7,256.2L487.0,255.2L488.2,254.2L489.5,253.3L490.7,252.3L492.0,251.4L493.2,250.4L494.5,249.5L495.7,248.6L496.9,247.7L498.2,246.8L499.4,246.0L500.7,245.2L501.9,244.4L503.2,243.6L504.4,242.9L505.7,242.1L506.9,241.4L508.2,240.7L509.4,240.0L510.7,239.3L511.9,238.6L513.2,238.0L514.4,237.3L515.7,236.6L516.9,236.0L518.2,235.3L519.4,234.7L520.7,234.0L521.9,233.4L523.1,232.7L524.4,232.1L525.6,231.4L526.9,230.8L528.1,230.1L529.4,229.4L530.6,228.8L531.9,228.1L533.1,227.4L534.4,226.7L535.6,226.0L536.9,225.4L538.1,224.7L539.4,224.0L540.6,223.4L541.9,222.8L543.1,222.2L544.4,221.6L545.6,221.0L546.9,220.4L548.1,219.9L549.3,219.4L550.6,218.9L551.8,218.4L553.1,218.0L554.3,217.6L555.6,217.1L556.8,216.7L558.1,216.3L559.3,215.9L560.6,215.5L561.8,215.1L563.1,214.7L564.3,214.3L565.6,214.0L566.8,213.6L568.1,213.3L569.3,212.9L570.6,212.6L571.8,212.3L573.1,212.0L574.3,211.7L575.5,211.4L576.8,211.1L578.0,210.8L579.3,210.5L580.5,210.3L581.8,210.0L583.0,209.8L584.3,209.6L585.5,209.3L586.8,209.1L588.0,208.8L589.3,208.6L590.5,208.4L591.8,208.2L593.0,208.0L594.3,207.8L595.5,207.6L596.8,207.4L598.0,207.2L599.3,207.1L600.5,206.9L601.7,206.8L603.0,206.7L604.2,206.6L605.5,206.6L606.7,206.5L608.0,206.5L609.2,206.4L610.5,206.4L611.7,206.3L613.0,206.3L614.2,206.3L615.5,206.3L616.7,206.3L618.0,206.3L619.2,206.3L620.5,206.3L621.7,206.4L623.0,206.5L624.2,206.6L625.5,206.7L626.7,206.8L627.9,207.0L629.2,207.1L630.4,207.3L631.7,207.4L632.9,207.6L634.2,207.8L635.4,208.1L636.7,208.4L637.9,208.7L639.2,209.0L640.4,209.4L641.7,209.7L642.9,210.1L644.2,210.6L645.4,211.0L646.7,211.5L647.9,211.9L649.2,212.4L650.4,212.9L651.7,213.5L652.9,214.0L654.1,214.5L655.4,215.1L656.6,215.7L657.9,216.2L659.1,216.8L660.4,217.4L661.6,218.0L662.9,218.6L664.1,219.2L665.4,219.8L666.6,220.4L667.9,221.0L669.1,221.6L670.4,222.2L671.6,222.8L672.9,223.4L674.1,224.1L675.4,224.7L676.6,225.4L677.9,226.1L679.1,226.9L680.3,227.6L681.6,228.4L682.8,229.1L684.1,229.9L685.3,230.7L686.6,231.5L687.8,232.4L689.1,233.2L690.3,234.1L691.6,234.9L692.8,235.8L694.1,236.7L695.3,237.6L696.6,238.5L697.8,239.4L699.1,240.3L700.3,241.2L701.6,242.2L702.8,243.1L704.1,244.1L705.3,245.0L706.5,245.9L707.8,246.9L709.0,247.9L710.3,248.8L711.5,249.8L712.8,250.7L714.0,251.7L715.3,252.6L716.5,253.6L717.8,254.6L719.0,255.5L720.3,256.5L721.5,257.4L722.8,258.4L724.0,259.3L725.3,260.3L726.5,261.3L727.8,262.3L729.0,263.3L730.3,264.3L731.5,265.4L732.7,266.4L734.0,267.4L735.2,268.5L736.5,269.5L737.7,270.6L739.0,271.6L740.2,272.7L741.5,273.8L742.7,274.8L744.0,275.9L745.2,277.0L746.5,278.1L747.7,279.2L749.0,280.2L750.2,281.3L751.5,282.4L752.7,283.5L754.0,284.6L755.2,285.7L756.5,286.8L757.7,287.9L758.9,289.0L760.2,290.1L761.4,291.2L762.7,292.3L763.9,293.4L765.2,294.5L766.4,295.6L767.7,296.7L768.9,297.8L770.2,298.9L771.4,300.0L772.7,301.1L773.9,302.2L775.2,303.3L776.4,304.5L777.7,305.6L778.9,306.8L780.2,307.9L781.4,309.0L782.6,310.2L783.9,311.3L785.1,312.4L786.4,313.6L787.6,314.7L788.9,315.8L790.1,316.9L791.4,318.0L792.6,319.0L793.9,320.1L795.1,321.1L796.4,322.1L797.6,323.1L798.9,324.1L800.1,325.1L801.4,326.1L802.6,327.1L803.9,328.1L805.1,329.0L806.4,330.0L807.6,330.9L808.8,331.9L810.1,332.8L811.3,333.7L812.6,334.7L813.8,335.6L815.1,336.5L816.3,337.4L817.6,338.3L818.8,339.2L820.1,340.1L821.3,340.9L822.6,341.8L823.8,342.7L825.1,343.6L826.3,344.5L827.6,345.3L828.8,346.2L830.1,347.1L831.3,347.9L832.6,348.8L833.8,349.7L835.0,350.5L836.3,351.4L837.5,352.2L838.8,353.1L840.0,353.9L841.3,354.8L842.5,355.6L843.8,356.4L845.0,357.3L846.3,358.1L847.5,358.9L848.8,359.7L850.0,360.5L851.3,361.3L852.5,362.1L853.8,362.9L855.0,363.7L856.3,364.5L857.5,365.2L858.8,366.0L860.0,366.7L861.2,367.5L862.5,368.2L863.7,369.0L865.0,369.7L866.2,370.4L867.5,371.1L868.7,371.8L870.0,372.5L871.2,373.2L872.5,373.9L873.7,374.5L875.0,375.2L876.2,375.9L877.5,376.5L878.7,377.2L880.0,377.8L881.2,378.5L882.5,379.1L883.7,379.7L885.0,380.3L886.2,380.9L887.4,381.4L888.7,382.0L889.9,382.5L891.2,383.0L892.4,383.5L893.7,384.0L894.9,384.5L896.2,385.0L897.4,385.4L898.7,385.9L899.9,386.3L901.2,386.8L902.4,387.2L903.7,387.6L904.9,388.1L906.2,388.5L907.4,388.9L908.7,389.3L909.9,389.7L911.2,390.2L912.4,390.6L913.6,390.9L914.9,391.3L916.1,391.7L917.4,392.1L918.6,392.5L919.9,392.8L921.1,393.2L922.4,393.6L923.6,393.9L924.9,394.3L926.1,394.6L927.4,394.9L928.6,395.3L929.9,395.6L931.1,395.9L932.4,396.2L933.6,396.6L934.9,396.9L936.1,397.2L937.4,397.5L938.6,397.8L939.8,398.0L941.1,398.3L942.3,398.6L943.6,398.9L944.8,399.1L946.1,399.4L947.3,399.7L948.6,399.9L949.8,400.2L951.1,400.5L952.3,400.7L953.6,401.0L954.8,401.2L956.1,401.5L957.3,401.7L958.6,402.0L959.8,402.2L961.1,402.4L962.3,402.7L963.6,402.9L964.8,403.1L966.0,403.4L967.3,403.6L968.5,403.8L969.8,404.0L971.0,404.2L972.3,404.4L973.5,404.6L974.8,404.8L976.0,405.0L977.3,405.2L978.5,405.4L979.8,405.6L981.0,405.8L982.3,405.9L983.5,406.1L984.8,406.3L986.0,406.4L987.3,406.6L988.5,406.7L989.8,406.9L991.0,407.0" fill="none" stroke="#7a0a0a" stroke-width="1.4" stroke-linejoin="round" stroke-opacity="1"/>
<path d="M79.0,409.4L80.2,378.4L81.5,435.3L82.7,419.7L84.0,401.6L85.2,378.4L86.5,399.1L87.7,404.2L89.0,406.8L90.2,404.2L91.5,399.1L92.7,399.1L94.0,393.9L95.2,399.1L96.5,370.6L97.7,388.7L99.0,396.5L100.2,409.4L101.5,409.4L102.7,386.1L104.0,409.4L105.2,422.3L106.4,414.6L107.7,419.7L108.9,430.1L110.2,432.7L111.4,401.6L112.7,427.5L113.9,422.3L115.2,399.1L116.4,396.5L117.7,401.6L118.9,412.0L120.2,417.2L121.4,396.5L122.7,393.9L123.9,412.0L125.2,386.1L126.4,417.2L127.7,424.9L128.9,404.2L130.2,406.8L131.4,391.3L132.6,419.7L133.9,422.3L135.1,422.3L136.4,422.3L137.6,419.7L138.9,414.6L140.1,406.8L141.4,404.2L142.6,412.0L143.9,391.3L145.1,406.8L146.4,406.8L147.6,401.6L148.9,396.5L150.1,409.4L151.4,422.3L152.6,417.2L153.9,404.2L155.1,409.4L156.4,419.7L157.6,414.6L158.8,404.2L160.1,430.1L161.3,417.2L162.6,427.5L163.8,404.2L165.1,406.8L166.3,404.2L167.6,412.0L168.8,409.4L170.1,427.5L171.3,401.6L172.6,406.8L173.8,424.9L175.1,412.0L176.3,409.4L177.6,404.2L178.8,409.4L180.1,401.6L181.3,417.2L182.6,401.6L183.8,401.6L185.0,406.8L186.3,419.7L187.5,422.3L188.8,414.6L190.0,393.9L191.3,393.9L192.5,414.6L193.8,409.4L195.0,404.2L196.3,396.5L197.5,406.8L198.8,412.0L200.0,409.4L201.3,414.6L202.5,419.7L203.8,414.6L205.0,404.2L206.3,404.2L207.5,406.8L208.8,409.4L210.0,401.6L211.2,417.2L212.5,401.6L213.7,399.1L215.0,419.7L216.2,406.8L217.5,401.6L218.7,399.1L220.0,404.2L221.2,409.4L222.5,422.3L223.7,419.7L225.0,396.5L226.2,412.0L227.5,432.7L228.7,412.0L230.0,432.7L231.2,424.9L232.5,414.6L233.7,417.2L235.0,388.7L236.2,412.0L237.4,375.8L238.7,391.3L239.9,378.4L241.2,401.6L242.4,406.8L243.7,393.9L244.9,396.5L246.2,386.1L247.4,396.5L248.7,383.5L249.9,388.7L251.2,383.5L252.4,393.9L253.7,378.4L254.9,414.6L256.2,404.2L257.4,409.4L258.7,401.6L259.9,357.7L261.2,386.1L262.4,383.5L263.6,424.9L264.9,409.4L266.1,414.6L267.4,383.5L268.6,401.6L269.9,409.4L271.1,404.2L272.4,370.6L273.6,373.2L274.9,370.6L276.1,368.0L277.4,396.5L278.6,409.4L279.9,386.1L281.1,383.5L282.4,368.0L283.6,368.0L284.9,396.5L286.1,378.4L287.4,381.0L288.6,391.3L289.8,388.7L291.1,375.8L292.3,388.7L293.6,388.7L294.8,383.5L296.1,396.5L297.3,386.1L298.6,393.9L299.8,391.3L301.1,393.9L302.3,399.1L303.6,381.0L304.8,393.9L306.1,391.3L307.3,399.1L308.6,391.3L309.8,401.6L311.1,393.9L312.3,399.1L313.5,404.2L314.8,401.6L316.0,399.1L317.3,393.9L318.5,396.5L319.8,401.6L321.0,399.1L322.3,388.7L323.5,399.1L324.8,373.2L326.0,370.6L327.3,355.1L328.5,352.5L329.8,391.3L331.0,368.0L332.3,357.7L333.5,373.2L334.8,344.8L336.0,347.3L337.3,360.3L338.5,334.4L339.7,349.9L341.0,342.2L342.2,352.5L343.5,347.3L344.7,378.4L346.0,378.4L347.2,352.5L348.5,355.1L349.7,347.3L351.0,355.1L352.2,342.2L353.5,349.9L354.7,352.5L356.0,360.3L357.2,368.0L358.5,306.0L359.7,370.6L361.0,355.1L362.2,368.0L363.5,375.8L364.7,360.3L365.9,357.7L367.2,331.8L368.4,362.9L369.7,339.6L370.9,357.7L372.2,373.2L373.4,373.2L374.7,329.2L375.9,355.1L377.2,342.2L378.4,329.2L379.7,349.9L380.9,349.9L382.2,357.7L383.4,342.2L384.7,344.8L385.9,324.1L387.2,316.3L388.4,342.2L389.7,342.2L390.9,329.2L392.1,313.7L393.4,311.1L394.6,324.1L395.9,342.2L397.1,334.4L398.4,313.7L399.6,329.2L400.9,324.1L402.1,298.2L403.4,311.1L404.6,342.2L405.9,316.3L407.1,329.2L408.4,318.9L409.6,324.1L410.9,306.0L412.1,321.5L413.4,313.7L414.6,344.8L415.9,321.5L417.1,313.7L418.3,329.2L419.6,225.8L420.8,311.1L422.1,306.0L423.3,318.9L424.6,318.9L425.8,290.4L427.1,298.2L428.3,295.6L429.6,308.5L430.8,306.0L432.1,285.3L433.3,311.1L434.6,306.0L435.8,285.3L437.1,287.9L438.3,287.9L439.6,290.4L440.8,272.3L442.1,298.2L443.3,236.1L444.5,282.7L445.8,285.3L447.0,277.5L448.3,274.9L449.5,306.0L450.8,306.0L452.0,277.5L453.3,269.8L454.5,280.1L455.8,293.0L457.0,259.4L458.3,298.2L459.5,285.3L460.8,280.1L462.0,280.1L463.3,316.3L464.5,318.9L465.8,280.1L467.0,272.3L468.3,246.5L469.5,231.0L470.7,249.1L472.0,228.4L473.2,246.5L474.5,269.8L475.7,251.7L477.0,254.2L478.2,264.6L479.5,238.7L480.7,228.4L482.0,238.7L483.2,231.0L484.5,231.0L485.7,262.0L487.0,259.4L488.2,267.2L489.5,272.3L490.7,238.7L492.0,256.8L493.2,246.5L494.5,233.6L495.7,243.9L496.9,241.3L498.2,290.4L499.4,207.7L500.7,202.5L501.9,199.9L503.2,241.3L504.4,223.2L505.7,246.5L506.9,267.2L508.2,251.7L509.4,285.3L510.7,194.8L511.9,264.6L513.2,215.5L514.4,225.8L515.7,189.6L516.9,194.8L518.2,215.5L519.4,282.7L520.7,189.6L521.9,238.7L523.1,233.6L524.4,197.4L525.6,199.9L526.9,238.7L528.1,264.6L529.4,212.9L530.6,220.6L531.9,205.1L533.1,228.4L534.4,231.0L535.6,236.1L536.9,215.5L538.1,223.2L539.4,212.9L540.6,194.8L541.9,202.5L543.1,212.9L544.4,117.2L545.6,199.9L546.9,187.0L548.1,212.9L549.3,207.7L550.6,168.9L551.8,189.6L553.1,192.2L554.3,192.2L555.6,194.8L556.8,202.5L558.1,137.9L559.3,202.5L560.6,223.2L561.8,187.0L563.1,218.0L564.3,202.5L565.6,163.7L566.8,246.5L568.1,212.9L569.3,205.1L570.6,174.1L571.8,202.5L573.1,238.7L574.3,168.9L575.5,166.3L576.8,150.8L578.0,163.7L579.3,148.2L580.5,153.4L581.8,163.7L583.0,184.4L584.3,228.4L585.5,179.2L586.8,163.7L588.0,135.3L589.3,181.8L590.5,150.8L591.8,166.3L593.0,150.8L594.3,166.3L595.5,174.1L596.8,202.5L598.0,187.0L599.3,215.5L600.5,189.6L601.7,233.6L603.0,210.3L604.2,210.3L605.5,199.9L606.7,218.0L608.0,137.9L609.2,166.3L610.5,86.2L611.7,202.5L613.0,220.6L614.2,156.0L615.5,194.8L616.7,176.7L618.0,184.4L619.2,184.4L620.5,223.2L621.7,223.2L623.0,192.2L624.2,218.0L625.5,205.1L626.7,218.0L627.9,202.5L629.2,231.0L630.4,163.7L631.7,231.0L632.9,184.4L634.2,197.4L635.4,81.0L636.7,171.5L637.9,184.4L639.2,192.2L640.4,176.7L641.7,212.9L642.9,225.8L644.2,228.4L645.4,187.0L646.7,184.4L647.9,197.4L649.2,197.4L650.4,225.8L651.7,223.2L652.9,228.4L654.1,181.8L655.4,215.5L656.6,189.6L657.9,231.0L659.1,246.5L660.4,228.4L661.6,197.4L662.9,228.4L664.1,220.6L665.4,199.9L666.6,241.3L667.9,176.7L669.1,192.2L670.4,205.1L671.6,212.9L672.9,212.9L674.1,241.3L675.4,220.6L676.6,199.9L677.9,241.3L679.1,210.3L680.3,233.6L681.6,246.5L682.8,231.0L684.1,236.1L685.3,223.2L686.6,262.0L687.8,205.1L689.1,251.7L690.3,223.2L691.6,231.0L692.8,251.7L694.1,243.9L695.3,212.9L696.6,262.0L697.8,277.5L699.1,249.1L700.3,205.1L701.6,238.7L702.8,272.3L704.1,233.6L705.3,218.0L706.5,220.6L707.8,241.3L709.0,225.8L710.3,231.0L711.5,207.7L712.8,161.1L714.0,241.3L715.3,199.9L716.5,176.7L717.8,256.8L719.0,233.6L720.3,228.4L721.5,220.6L722.8,243.9L724.0,212.9L725.3,243.9L726.5,264.6L727.8,303.4L729.0,254.2L730.3,225.8L731.5,231.0L732.7,324.1L734.0,293.0L735.2,267.2L736.5,264.6L737.7,238.7L739.0,251.7L740.2,277.5L741.5,264.6L742.7,282.7L744.0,293.0L745.2,303.4L746.5,313.7L747.7,321.5L749.0,303.4L750.2,326.6L751.5,280.1L752.7,316.3L754.0,306.0L755.2,293.0L756.5,308.5L757.7,326.6L758.9,290.4L760.2,285.3L761.4,287.9L762.7,303.4L763.9,298.2L765.2,298.2L766.4,280.1L767.7,300.8L768.9,293.0L770.2,308.5L771.4,287.9L772.7,321.5L773.9,298.2L775.2,306.0L776.4,303.4L777.7,300.8L778.9,316.3L780.2,349.9L781.4,326.6L782.6,313.7L783.9,349.9L785.1,347.3L786.4,347.3L787.6,347.3L788.9,339.6L790.1,316.3L791.4,318.9L792.6,342.2L793.9,316.3L795.1,324.1L796.4,331.8L797.6,331.8L798.9,352.5L800.1,331.8L801.4,360.3L802.6,318.9L803.9,329.2L805.1,344.8L806.4,329.2L807.6,329.2L808.8,344.8L810.1,342.2L811.3,360.3L812.6,344.8L813.8,357.7L815.1,357.7L816.3,355.1L817.6,365.4L818.8,352.5L820.1,339.6L821.3,362.9L822.6,331.8L823.8,337.0L825.1,349.9L826.3,347.3L827.6,334.4L828.8,352.5L830.1,290.4L831.3,362.9L832.6,349.9L833.8,352.5L835.0,331.8L836.3,349.9L837.5,331.8L838.8,357.7L840.0,339.6L841.3,337.0L842.5,344.8L843.8,342.2L845.0,355.1L846.3,375.8L847.5,347.3L848.8,414.6L850.0,373.2L851.3,370.6L852.5,378.4L853.8,370.6L855.0,393.9L856.3,388.7L857.5,396.5L858.8,352.5L860.0,386.1L861.2,362.9L862.5,378.4L863.7,381.0L865.0,365.4L866.2,388.7L867.5,375.8L868.7,360.3L870.0,378.4L871.2,393.9L872.5,370.6L873.7,386.1L875.0,393.9L876.2,396.5L877.5,396.5L878.7,381.0L880.0,388.7L881.2,370.6L882.5,370.6L883.7,375.8L885.0,373.2L886.2,388.7L887.4,406.8L888.7,396.5L889.9,393.9L891.2,370.6L892.4,386.1L893.7,386.1L894.9,393.9L896.2,412.0L897.4,412.0L898.7,404.2L899.9,399.1L901.2,399.1L902.4,393.9L903.7,412.0L904.9,381.0L906.2,386.1L907.4,393.9L908.7,417.2L909.9,391.3L911.2,404.2L912.4,391.3L913.6,412.0L914.9,404.2L916.1,399.1L917.4,404.2L918.6,396.5L919.9,393.9L921.1,419.7L922.4,404.2L923.6,412.0L924.9,396.5L926.1,414.6L927.4,406.8L928.6,393.9L929.9,406.8L931.1,406.8L932.4,404.2L933.6,401.6L934.9,417.2L936.1,409.4L937.4,404.2L938.6,396.5L939.8,396.5L941.1,386.1L942.3,388.7L943.6,404.2L944.8,419.7L946.1,365.4L947.3,393.9L948.6,391.3L949.8,396.5L951.1,393.9L952.3,393.9L953.6,414.6L954.8,393.9L956.1,404.2L957.3,437.8L958.6,401.6L959.8,422.3L961.1,401.6L962.3,414.6L963.6,401.6L964.8,417.2L966.0,412.0L967.3,409.4L968.5,401.6L969.8,419.7L971.0,401.6L972.3,393.9L973.5,409.4L974.8,313.7L976.0,399.1L977.3,393.9L978.5,417.2L979.8,409.4L981.0,404.2L982.3,409.4L983.5,414.6L984.8,396.5L986.0,391.3L987.3,370.6L988.5,393.9L989.8,409.4L991.0,422.3" fill="none" stroke="#ff1732" stroke-width="1.15" stroke-linejoin="round" stroke-opacity="1"/>
<path d="M79.0,505.1L80.2,507.7L81.5,502.5L82.7,510.3L84.0,502.5L85.2,507.7L86.5,505.1L87.7,510.3L89.0,507.7L90.2,507.7L91.5,505.1L92.7,505.1L94.0,499.9L95.2,507.7L96.5,505.1L97.7,510.3L99.0,507.7L100.2,505.1L101.5,502.5L102.7,507.7L104.0,505.1L105.2,499.9L106.4,502.5L107.7,507.7L108.9,505.1L110.2,515.4L111.4,515.4L112.7,515.4L113.9,510.3L115.2,507.7L116.4,502.5L117.7,505.1L118.9,512.8L120.2,507.7L121.4,505.1L122.7,512.8L123.9,505.1L125.2,507.7L126.4,507.7L127.7,505.1L128.9,512.8L130.2,505.1L131.4,505.1L132.6,507.7L133.9,518.0L135.1,505.1L136.4,507.7L137.6,510.3L138.9,505.1L140.1,507.7L141.4,510.3L142.6,515.4L143.9,502.5L145.1,505.1L146.4,502.5L147.6,502.5L148.9,494.7L150.1,499.9L151.4,494.7L152.6,494.7L153.9,499.9L155.1,497.3L156.4,505.1L157.6,497.3L158.8,505.1L160.1,510.3L161.3,507.7L162.6,505.1L163.8,510.3L165.1,502.5L166.3,499.9L167.6,505.1L168.8,507.7L170.1,510.3L171.3,510.3L172.6,505.1L173.8,510.3L175.1,507.7L176.3,510.3L177.6,505.1L178.8,505.1L180.1,502.5L181.3,510.3L182.6,507.7L183.8,499.9L185.0,505.1L186.3,505.1L187.5,499.9L188.8,502.5L190.0,499.9L191.3,505.1L192.5,502.5L193.8,505.1L195.0,505.1L196.3,502.5L197.5,502.5L198.8,507.7L200.0,505.1L201.3,505.1L202.5,502.5L203.8,507.7L205.0,497.3L206.3,499.9L207.5,507.7L208.8,507.7L210.0,499.9L211.2,499.9L212.5,502.5L213.7,502.5L215.0,499.9L216.2,505.1L217.5,505.1L218.7,499.9L220.0,507.7L221.2,502.5L222.5,502.5L223.7,499.9L225.0,497.3L226.2,484.4L227.5,510.3L228.7,502.5L230.0,499.9L231.2,499.9L232.5,507.7L233.7,502.5L235.0,499.9L236.2,507.7L237.4,510.3L238.7,499.9L239.9,499.9L241.2,502.5L242.4,510.3L243.7,505.1L244.9,507.7L246.2,507.7L247.4,494.7L248.7,502.5L249.9,499.9L251.2,502.5L252.4,497.3L253.7,494.7L254.9,499.9L256.2,497.3L257.4,507.7L258.7,507.7L259.9,499.9L261.2,499.9L262.4,497.3L263.6,499.9L264.9,499.9L266.1,499.9L267.4,499.9L268.6,499.9L269.9,497.3L271.1,494.7L272.4,492.2L273.6,502.5L274.9,497.3L276.1,497.3L277.4,499.9L278.6,497.3L279.9,505.1L281.1,502.5L282.4,497.3L283.6,497.3L284.9,492.2L286.1,494.7L287.4,497.3L288.6,502.5L289.8,502.5L291.1,497.3L292.3,502.5L293.6,502.5L294.8,494.7L296.1,499.9L297.3,502.5L298.6,505.1L299.8,497.3L301.1,497.3L302.3,492.2L303.6,502.5L304.8,492.2L306.1,499.9L307.3,497.3L308.6,502.5L309.8,502.5L311.1,497.3L312.3,497.3L313.5,492.2L314.8,499.9L316.0,487.0L317.3,494.7L318.5,484.4L319.8,487.0L321.0,502.5L322.3,515.4L323.5,487.0L324.8,492.2L326.0,492.2L327.3,497.3L328.5,497.3L329.8,489.6L331.0,489.6L332.3,492.2L333.5,489.6L334.8,494.7L336.0,497.3L337.3,487.0L338.5,492.2L339.7,489.6L341.0,497.3L342.2,492.2L343.5,497.3L344.7,489.6L346.0,494.7L347.2,492.2L348.5,497.3L349.7,492.2L351.0,487.0L352.2,487.0L353.5,481.8L354.7,489.6L356.0,481.8L357.2,484.4L358.5,492.2L359.7,494.7L361.0,499.9L362.2,497.3L363.5,492.2L364.7,499.9L365.9,487.0L367.2,492.2L368.4,499.9L369.7,492.2L370.9,489.6L372.2,487.0L373.4,492.2L374.7,492.2L375.9,481.8L377.2,481.8L378.4,489.6L379.7,492.2L380.9,487.0L382.2,479.2L383.4,476.6L384.7,476.6L385.9,476.6L387.2,481.8L388.4,479.2L389.7,492.2L390.9,489.6L392.1,489.6L393.4,494.7L394.6,492.2L395.9,481.8L397.1,487.0L398.4,484.4L399.6,494.7L400.9,487.0L402.1,468.9L403.4,463.7L404.6,481.8L405.9,463.7L407.1,479.2L408.4,487.0L409.6,471.5L410.9,492.2L412.1,476.6L413.4,479.2L414.6,489.6L415.9,484.4L417.1,474.1L418.3,479.2L419.6,474.1L420.8,471.5L422.1,466.3L423.3,456.0L424.6,471.5L425.8,461.1L427.1,471.5L428.3,484.4L429.6,466.3L430.8,471.5L432.1,456.0L433.3,479.2L434.6,453.4L435.8,479.2L437.1,461.1L438.3,466.3L439.6,476.6L440.8,492.2L442.1,497.3L443.3,494.7L444.5,497.3L445.8,502.5L447.0,497.3L448.3,502.5L449.5,456.0L450.8,450.8L452.0,443.0L453.3,466.3L454.5,476.6L455.8,481.8L457.0,471.5L458.3,463.7L459.5,456.0L460.8,471.5L462.0,463.7L463.3,463.7L464.5,448.2L465.8,479.2L467.0,461.1L468.3,453.4L469.5,487.0L470.7,471.5L472.0,461.1L473.2,466.3L474.5,463.7L475.7,463.7L477.0,468.9L478.2,468.9L479.5,463.7L480.7,466.3L482.0,481.8L483.2,466.3L484.5,463.7L485.7,450.8L487.0,461.1L488.2,463.7L489.5,456.0L490.7,461.1L492.0,468.9L493.2,458.5L494.5,466.3L495.7,453.4L496.9,468.9L498.2,456.0L499.4,458.5L500.7,461.1L501.9,471.5L503.2,456.0L504.4,443.0L505.7,463.7L506.9,456.0L508.2,440.4L509.4,458.5L510.7,468.9L511.9,479.2L513.2,479.2L514.4,476.6L515.7,474.1L516.9,466.3L518.2,450.8L519.4,456.0L520.7,445.6L521.9,489.6L523.1,437.8L524.4,463.7L525.6,456.0L526.9,474.1L528.1,456.0L529.4,463.7L530.6,445.6L531.9,424.9L533.1,419.7L534.4,489.6L535.6,453.4L536.9,445.6L538.1,479.2L539.4,445.6L540.6,450.8L541.9,443.0L543.1,414.6L544.4,437.8L545.6,440.4L546.9,445.6L548.1,409.4L549.3,450.8L550.6,440.4L551.8,417.2L553.1,458.5L554.3,456.0L555.6,445.6L556.8,453.4L558.1,409.4L559.3,448.2L560.6,474.1L561.8,463.7L563.1,479.2L564.3,450.8L565.6,432.7L566.8,440.4L568.1,443.0L569.3,445.6L570.6,414.6L571.8,445.6L573.1,406.8L574.3,396.5L575.5,391.3L576.8,432.7L578.0,419.7L579.3,391.3L580.5,440.4L581.8,404.2L583.0,388.7L584.3,417.2L585.5,412.0L586.8,430.1L588.0,437.8L589.3,476.6L590.5,435.3L591.8,432.7L593.0,419.7L594.3,412.0L595.5,445.6L596.8,427.5L598.0,440.4L599.3,419.7L600.5,422.3L601.7,424.9L603.0,391.3L604.2,393.9L605.5,409.4L606.7,406.8L608.0,399.1L609.2,406.8L610.5,445.6L611.7,435.3L613.0,427.5L614.2,396.5L615.5,422.3L616.7,430.1L618.0,406.8L619.2,422.3L620.5,430.1L621.7,468.9L623.0,430.1L624.2,406.8L625.5,417.2L626.7,424.9L627.9,414.6L629.2,406.8L630.4,448.2L631.7,393.9L632.9,406.8L634.2,409.4L635.4,417.2L636.7,432.7L637.9,412.0L639.2,406.8L640.4,409.4L641.7,414.6L642.9,422.3L644.2,437.8L645.4,456.0L646.7,458.5L647.9,435.3L649.2,443.0L650.4,461.1L651.7,461.1L652.9,443.0L654.1,456.0L655.4,409.4L656.6,409.4L657.9,450.8L659.1,440.4L660.4,435.3L661.6,404.2L662.9,432.7L664.1,399.1L665.4,432.7L666.6,422.3L667.9,432.7L669.1,435.3L670.4,440.4L671.6,432.7L672.9,432.7L674.1,424.9L675.4,440.4L676.6,450.8L677.9,448.2L679.1,422.3L680.3,435.3L681.6,435.3L682.8,479.2L684.1,412.0L685.3,409.4L686.6,445.6L687.8,417.2L689.1,443.0L690.3,419.7L691.6,427.5L692.8,432.7L694.1,450.8L695.3,458.5L696.6,432.7L697.8,427.5L699.1,437.8L700.3,430.1L701.6,437.8L702.8,492.2L704.1,463.7L705.3,450.8L706.5,437.8L707.8,466.3L709.0,453.4L710.3,461.1L711.5,456.0L712.8,445.6L714.0,440.4L715.3,461.1L716.5,458.5L717.8,448.2L719.0,445.6L720.3,461.1L721.5,456.0L722.8,453.4L724.0,474.1L725.3,458.5L726.5,466.3L727.8,461.1L729.0,468.9L730.3,456.0L731.5,463.7L732.7,474.1L734.0,456.0L735.2,471.5L736.5,463.7L737.7,466.3L739.0,471.5L740.2,466.3L741.5,471.5L742.7,466.3L744.0,458.5L745.2,463.7L746.5,458.5L747.7,476.6L749.0,458.5L750.2,471.5L751.5,468.9L752.7,468.9L754.0,461.1L755.2,471.5L756.5,476.6L757.7,456.0L758.9,468.9L760.2,476.6L761.4,474.1L762.7,463.7L763.9,463.7L765.2,463.7L766.4,461.1L767.7,458.5L768.9,458.5L770.2,468.9L771.4,471.5L772.7,471.5L773.9,471.5L775.2,471.5L776.4,474.1L777.7,479.2L778.9,468.9L780.2,489.6L781.4,484.4L782.6,484.4L783.9,468.9L785.1,468.9L786.4,476.6L787.6,461.1L788.9,492.2L790.1,489.6L791.4,489.6L792.6,481.8L793.9,481.8L795.1,476.6L796.4,474.1L797.6,487.0L798.9,471.5L800.1,484.4L801.4,481.8L802.6,499.9L803.9,492.2L805.1,494.7L806.4,479.2L807.6,487.0L808.8,479.2L810.1,494.7L811.3,479.2L812.6,487.0L813.8,497.3L815.1,476.6L816.3,494.7L817.6,476.6L818.8,468.9L820.1,492.2L821.3,492.2L822.6,505.1L823.8,492.2L825.1,507.7L826.3,494.7L827.6,494.7L828.8,507.7L830.1,487.0L831.3,507.7L832.6,502.5L833.8,492.2L835.0,492.2L836.3,502.5L837.5,507.7L838.8,492.2L840.0,510.3L841.3,494.7L842.5,489.6L843.8,510.3L845.0,492.2L846.3,505.1L847.5,499.9L848.8,489.6L850.0,512.8L851.3,512.8L852.5,512.8L853.8,512.8L855.0,494.7L856.3,497.3L857.5,494.7L858.8,505.1L860.0,502.5L861.2,507.7L862.5,507.7L863.7,502.5L865.0,512.8L866.2,492.2L867.5,515.4L868.7,497.3L870.0,502.5L871.2,494.7L872.5,502.5L873.7,499.9L875.0,489.6L876.2,505.1L877.5,492.2L878.7,497.3L880.0,507.7L881.2,502.5L882.5,497.3L883.7,497.3L885.0,502.5L886.2,505.1L887.4,497.3L888.7,499.9L889.9,502.5L891.2,505.1L892.4,499.9L893.7,499.9L894.9,505.1L896.2,494.7L897.4,505.1L898.7,499.9L899.9,494.7L901.2,502.5L902.4,505.1L903.7,502.5L904.9,497.3L906.2,497.3L907.4,505.1L908.7,499.9L909.9,512.8L911.2,512.8L912.4,499.9L913.6,502.5L914.9,502.5L916.1,505.1L917.4,505.1L918.6,499.9L919.9,507.7L921.1,507.7L922.4,512.8L923.6,505.1L924.9,505.1L926.1,505.1L927.4,499.9L928.6,512.8L929.9,497.3L931.1,502.5L932.4,505.1L933.6,505.1L934.9,505.1L936.1,507.7L937.4,505.1L938.6,507.7L939.8,494.7L941.1,499.9L942.3,502.5L943.6,505.1L944.8,499.9L946.1,494.7L947.3,494.7L948.6,494.7L949.8,494.7L951.1,505.1L952.3,497.3L953.6,497.3L954.8,497.3L956.1,497.3L957.3,502.5L958.6,499.9L959.8,497.3L961.1,499.9L962.3,497.3L963.6,507.7L964.8,497.3L966.0,505.1L967.3,502.5L968.5,499.9L969.8,507.7L971.0,505.1L972.3,497.3L973.5,510.3L974.8,502.5L976.0,505.1L977.3,507.7L978.5,502.5L979.8,497.3L981.0,499.9L982.3,502.5L983.5,507.7L984.8,502.5L986.0,502.5L987.3,499.9L988.5,502.5L989.8,505.1L991.0,502.5" fill="none" stroke="#6259f4" stroke-width="1.2" stroke-linejoin="round" stroke-opacity="1"/>
<path d="M79.0,505.0L80.2,505.0L81.5,505.0L82.7,505.0L84.0,505.0L85.2,505.0L86.5,505.0L87.7,505.0L89.0,505.0L90.2,505.0L91.5,505.0L92.7,505.0L94.0,505.0L95.2,505.0L96.5,505.0L97.7,505.0L99.0,505.0L100.2,505.0L101.5,505.0L102.7,504.9L104.0,504.9L105.2,504.9L106.4,504.9L107.7,504.9L108.9,504.9L110.2,504.9L111.4,504.9L112.7,504.9L113.9,504.9L115.2,504.9L116.4,504.9L117.7,504.9L118.9,504.8L120.2,504.8L121.4,504.8L122.7,504.8L123.9,504.8L125.2,504.8L126.4,504.8L127.7,504.8L128.9,504.8L130.2,504.8L131.4,504.7L132.6,504.7L133.9,504.7L135.1,504.7L136.4,504.7L137.6,504.7L138.9,504.7L140.1,504.7L141.4,504.6L142.6,504.6L143.9,504.6L145.1,504.6L146.4,504.6L147.6,504.6L148.9,504.5L150.1,504.5L151.4,504.5L152.6,504.5L153.9,504.5L155.1,504.5L156.4,504.4L157.6,504.4L158.8,504.4L160.1,504.4L161.3,504.4L162.6,504.4L163.8,504.3L165.1,504.3L166.3,504.3L167.6,504.3L168.8,504.3L170.1,504.2L171.3,504.2L172.6,504.2L173.8,504.2L175.1,504.1L176.3,504.1L177.6,504.0L178.8,504.0L180.1,503.9L181.3,503.9L182.6,503.8L183.8,503.8L185.0,503.7L186.3,503.6L187.5,503.6L188.8,503.5L190.0,503.4L191.3,503.3L192.5,503.3L193.8,503.2L195.0,503.1L196.3,503.0L197.5,502.9L198.8,502.8L200.0,502.7L201.3,502.6L202.5,502.6L203.8,502.5L205.0,502.4L206.3,502.3L207.5,502.2L208.8,502.1L210.0,502.0L211.2,501.9L212.5,501.8L213.7,501.7L215.0,501.6L216.2,501.5L217.5,501.4L218.7,501.3L220.0,501.3L221.2,501.2L222.5,501.1L223.7,501.0L225.0,500.9L226.2,500.8L227.5,500.7L228.7,500.6L230.0,500.5L231.2,500.4L232.5,500.3L233.7,500.2L235.0,500.1L236.2,500.0L237.4,499.9L238.7,499.8L239.9,499.7L241.2,499.6L242.4,499.5L243.7,499.4L244.9,499.3L246.2,499.2L247.4,499.0L248.7,498.9L249.9,498.8L251.2,498.7L252.4,498.6L253.7,498.5L254.9,498.4L256.2,498.3L257.4,498.2L258.7,498.0L259.9,497.9L261.2,497.8L262.4,497.7L263.6,497.6L264.9,497.5L266.1,497.4L267.4,497.2L268.6,497.1L269.9,497.0L271.1,496.9L272.4,496.8L273.6,496.7L274.9,496.6L276.1,496.4L277.4,496.3L278.6,496.2L279.9,496.1L281.1,496.0L282.4,495.9L283.6,495.7L284.9,495.6L286.1,495.5L287.4,495.4L288.6,495.3L289.8,495.1L291.1,495.0L292.3,494.9L293.6,494.8L294.8,494.6L296.1,494.5L297.3,494.4L298.6,494.3L299.8,494.1L301.1,494.0L302.3,493.9L303.6,493.8L304.8,493.6L306.1,493.5L307.3,493.4L308.6,493.2L309.8,493.1L311.1,493.0L312.3,492.8L313.5,492.7L314.8,492.6L316.0,492.4L317.3,492.3L318.5,492.2L319.8,492.0L321.0,491.9L322.3,491.7L323.5,491.6L324.8,491.5L326.0,491.3L327.3,491.2L328.5,491.1L329.8,490.9L331.0,490.8L332.3,490.7L333.5,490.5L334.8,490.4L336.0,490.2L337.3,490.1L338.5,490.0L339.7,489.8L341.0,489.7L342.2,489.5L343.5,489.4L344.7,489.2L346.0,489.1L347.2,488.9L348.5,488.7L349.7,488.6L351.0,488.4L352.2,488.2L353.5,488.1L354.7,487.9L356.0,487.7L357.2,487.5L358.5,487.3L359.7,487.1L361.0,486.9L362.2,486.7L363.5,486.5L364.7,486.3L365.9,486.0L367.2,485.8L368.4,485.5L369.7,485.2L370.9,484.9L372.2,484.5L373.4,484.2L374.7,483.8L375.9,483.4L377.2,483.0L378.4,482.6L379.7,482.2L380.9,481.8L382.2,481.4L383.4,481.0L384.7,480.5L385.9,480.1L387.2,479.7L388.4,479.2L389.7,478.8L390.9,478.4L392.1,477.9L393.4,477.5L394.6,477.1L395.9,476.7L397.1,476.3L398.4,475.9L399.6,475.6L400.9,475.2L402.1,474.9L403.4,474.6L404.6,474.3L405.9,474.0L407.1,473.7L408.4,473.4L409.6,473.1L410.9,472.9L412.1,472.6L413.4,472.4L414.6,472.1L415.9,471.9L417.1,471.6L418.3,471.4L419.6,471.2L420.8,471.0L422.1,470.7L423.3,470.5L424.6,470.3L425.8,470.1L427.1,469.9L428.3,469.6L429.6,469.4L430.8,469.2L432.1,469.0L433.3,468.8L434.6,468.6L435.8,468.3L437.1,468.1L438.3,467.9L439.6,467.7L440.8,467.4L442.1,467.2L443.3,466.9L444.5,466.7L445.8,466.4L447.0,466.2L448.3,465.9L449.5,465.6L450.8,465.4L452.0,465.1L453.3,464.8L454.5,464.5L455.8,464.2L457.0,463.8L458.3,463.5L459.5,463.1L460.8,462.7L462.0,462.4L463.3,462.0L464.5,461.6L465.8,461.2L467.0,460.8L468.3,460.3L469.5,459.9L470.7,459.5L472.0,459.1L473.2,458.6L474.5,458.2L475.7,457.7L477.0,457.3L478.2,456.8L479.5,456.4L480.7,455.9L482.0,455.5L483.2,455.0L484.5,454.6L485.7,454.1L487.0,453.7L488.2,453.3L489.5,452.8L490.7,452.4L492.0,452.0L493.2,451.6L494.5,451.2L495.7,450.8L496.9,450.4L498.2,450.1L499.4,449.7L500.7,449.4L501.9,449.0L503.2,448.7L504.4,448.4L505.7,448.0L506.9,447.7L508.2,447.4L509.4,447.0L510.7,446.7L511.9,446.4L513.2,446.1L514.4,445.8L515.7,445.4L516.9,445.1L518.2,444.8L519.4,444.5L520.7,444.2L521.9,443.9L523.1,443.6L524.4,443.4L525.6,443.1L526.9,442.8L528.1,442.5L529.4,442.3L530.6,442.0L531.9,441.8L533.1,441.6L534.4,441.3L535.6,441.1L536.9,440.9L538.1,440.7L539.4,440.5L540.6,440.4L541.9,440.2L543.1,440.0L544.4,439.9L545.6,439.7L546.9,439.5L548.1,439.4L549.3,439.2L550.6,439.1L551.8,438.9L553.1,438.8L554.3,438.6L555.6,438.5L556.8,438.4L558.1,438.2L559.3,438.1L560.6,438.0L561.8,437.8L563.1,437.7L564.3,437.6L565.6,437.5L566.8,437.4L568.1,437.3L569.3,437.2L570.6,437.1L571.8,437.0L573.1,436.9L574.3,436.8L575.5,436.7L576.8,436.7L578.0,436.6L579.3,436.5L580.5,436.5L581.8,436.4L583.0,436.4L584.3,436.3L585.5,436.3L586.8,436.2L588.0,436.2L589.3,436.1L590.5,436.1L591.8,436.0L593.0,436.0L594.3,436.0L595.5,435.9L596.8,435.9L598.0,435.9L599.3,435.9L600.5,435.9L601.7,435.9L603.0,435.9L604.2,435.9L605.5,435.9L606.7,436.0L608.0,436.0L609.2,436.0L610.5,436.0L611.7,436.0L613.0,436.1L614.2,436.1L615.5,436.1L616.7,436.2L618.0,436.2L619.2,436.2L620.5,436.3L621.7,436.3L623.0,436.4L624.2,436.4L625.5,436.5L626.7,436.6L627.9,436.6L629.2,436.7L630.4,436.8L631.7,436.9L632.9,437.1L634.2,437.2L635.4,437.3L636.7,437.4L637.9,437.6L639.2,437.7L640.4,437.9L641.7,438.0L642.9,438.2L644.2,438.4L645.4,438.5L646.7,438.7L647.9,438.9L649.2,439.1L650.4,439.3L651.7,439.4L652.9,439.6L654.1,439.8L655.4,440.0L656.6,440.2L657.9,440.4L659.1,440.7L660.4,440.9L661.6,441.1L662.9,441.3L664.1,441.5L665.4,441.7L666.6,441.9L667.9,442.1L669.1,442.3L670.4,442.6L671.6,442.8L672.9,443.0L674.1,443.3L675.4,443.5L676.6,443.8L677.9,444.1L679.1,444.3L680.3,444.6L681.6,444.9L682.8,445.2L684.1,445.5L685.3,445.9L686.6,446.2L687.8,446.5L689.1,446.9L690.3,447.2L691.6,447.6L692.8,447.9L694.1,448.3L695.3,448.6L696.6,449.0L697.8,449.4L699.1,449.8L700.3,450.1L701.6,450.5L702.8,450.9L704.1,451.3L705.3,451.7L706.5,452.1L707.8,452.5L709.0,452.9L710.3,453.2L711.5,453.6L712.8,454.0L714.0,454.4L715.3,454.8L716.5,455.2L717.8,455.6L719.0,456.0L720.3,456.3L721.5,456.7L722.8,457.1L724.0,457.5L725.3,457.9L726.5,458.3L727.8,458.7L729.0,459.1L730.3,459.5L731.5,460.0L732.7,460.4L734.0,460.8L735.2,461.2L736.5,461.7L737.7,462.1L739.0,462.5L740.2,463.0L741.5,463.4L742.7,463.8L744.0,464.3L745.2,464.7L746.5,465.2L747.7,465.6L749.0,466.0L750.2,466.5L751.5,466.9L752.7,467.4L754.0,467.8L755.2,468.2L756.5,468.7L757.7,469.1L758.9,469.5L760.2,469.9L761.4,470.4L762.7,470.8L763.9,471.2L765.2,471.6L766.4,472.0L767.7,472.4L768.9,472.8L770.2,473.2L771.4,473.6L772.7,474.0L773.9,474.4L775.2,474.8L776.4,475.2L777.7,475.6L778.9,476.0L780.2,476.4L781.4,476.8L782.6,477.2L783.9,477.6L785.1,478.0L786.4,478.4L787.6,478.8L788.9,479.2L790.1,479.6L791.4,480.0L792.6,480.4L793.9,480.8L795.1,481.1L796.4,481.5L797.6,481.9L798.9,482.3L800.1,482.7L801.4,483.0L802.6,483.4L803.9,483.7L805.1,484.1L806.4,484.5L807.6,484.8L808.8,485.1L810.1,485.5L811.3,485.8L812.6,486.1L813.8,486.5L815.1,486.8L816.3,487.1L817.6,487.4L818.8,487.7L820.1,488.0L821.3,488.3L822.6,488.6L823.8,488.9L825.1,489.2L826.3,489.5L827.6,489.8L828.8,490.1L830.1,490.3L831.3,490.6L832.6,490.9L833.8,491.2L835.0,491.5L836.3,491.7L837.5,492.0L838.8,492.3L840.0,492.5L841.3,492.8L842.5,493.1L843.8,493.3L845.0,493.6L846.3,493.8L847.5,494.1L848.8,494.3L850.0,494.6L851.3,494.8L852.5,495.0L853.8,495.3L855.0,495.5L856.3,495.7L857.5,495.9L858.8,496.1L860.0,496.3L861.2,496.5L862.5,496.7L863.7,496.9L865.0,497.1L866.2,497.3L867.5,497.4L868.7,497.6L870.0,497.8L871.2,497.9L872.5,498.1L873.7,498.2L875.0,498.4L876.2,498.6L877.5,498.7L878.7,498.9L880.0,499.0L881.2,499.1L882.5,499.3L883.7,499.4L885.0,499.6L886.2,499.7L887.4,499.8L888.7,500.0L889.9,500.1L891.2,500.2L892.4,500.4L893.7,500.5L894.9,500.6L896.2,500.7L897.4,500.8L898.7,501.0L899.9,501.1L901.2,501.2L902.4,501.3L903.7,501.4L904.9,501.5L906.2,501.6L907.4,501.7L908.7,501.8L909.9,501.9L911.2,502.0L912.4,502.1L913.6,502.2L914.9,502.3L916.1,502.4L917.4,502.5L918.6,502.5L919.9,502.6L921.1,502.7L922.4,502.8L923.6,502.9L924.9,502.9L926.1,503.0L927.4,503.1L928.6,503.2L929.9,503.3L931.1,503.3L932.4,503.4L933.6,503.5L934.9,503.5L936.1,503.6L937.4,503.7L938.6,503.8L939.8,503.8L941.1,503.9L942.3,504.0L943.6,504.0L944.8,504.1L946.1,504.1L947.3,504.2L948.6,504.3L949.8,504.3L951.1,504.4L952.3,504.4L953.6,504.5L954.8,504.5L956.1,504.6L957.3,504.6L958.6,504.7L959.8,504.7L961.1,504.8L962.3,504.8L963.6,504.9L964.8,504.9L966.0,504.9L967.3,505.0L968.5,505.0L969.8,505.1L971.0,505.1L972.3,505.1L973.5,505.2L974.8,505.2L976.0,505.2L977.3,505.2L978.5,505.3L979.8,505.3L981.0,505.3L982.3,505.4L983.5,505.4L984.8,505.4L986.0,505.4L987.3,505.4L988.5,505.5L989.8,505.5L991.0,505.5" fill="none" stroke="#00008b" stroke-width="1.5" stroke-linejoin="round" stroke-opacity="1"/>
<path d="M79.0,471.5L80.2,471.5L81.5,471.5L82.7,468.9L84.0,474.1L85.2,474.1L86.5,476.6L87.7,474.1L89.0,476.6L90.2,474.1L91.5,471.5L92.7,471.5L94.0,468.9L95.2,468.9L96.5,468.9L97.7,466.3L99.0,471.5L100.2,471.5L101.5,471.5L102.7,471.5L104.0,474.1L105.2,471.5L106.4,468.9L107.7,466.3L108.9,468.9L110.2,468.9L111.4,468.9L112.7,468.9L113.9,471.5L115.2,471.5L116.4,471.5L117.7,468.9L118.9,471.5L120.2,468.9L121.4,468.9L122.7,466.3L123.9,468.9L125.2,468.9L126.4,468.9L127.7,468.9L128.9,468.9L130.2,468.9L131.4,471.5L132.6,468.9L133.9,471.5L135.1,468.9L136.4,468.9L137.6,468.9L138.9,468.9L140.1,466.3L141.4,468.9L142.6,466.3L143.9,468.9L145.1,463.7L146.4,466.3L147.6,466.3L148.9,468.9L150.1,466.3L151.4,468.9L152.6,468.9L153.9,471.5L155.1,468.9L156.4,471.5L157.6,468.9L158.8,471.5L160.1,471.5L161.3,468.9L162.6,468.9L163.8,468.9L165.1,468.9L166.3,468.9L167.6,466.3L168.8,468.9L170.1,468.9L171.3,468.9L172.6,466.3L173.8,468.9L175.1,466.3L176.3,468.9L177.6,468.9L178.8,468.9L180.1,463.7L181.3,468.9L182.6,468.9L183.8,471.5L185.0,468.9L186.3,468.9L187.5,468.9L188.8,468.9L190.0,468.9L191.3,468.9L192.5,468.9L193.8,468.9L195.0,468.9L196.3,468.9L197.5,466.3L198.8,466.3L200.0,466.3L201.3,468.9L202.5,466.3L203.8,468.9L205.0,468.9L206.3,468.9L207.5,466.3L208.8,468.9L210.0,466.3L211.2,468.9L212.5,466.3L213.7,466.3L215.0,466.3L216.2,468.9L217.5,463.7L218.7,466.3L220.0,463.7L221.2,463.7L222.5,461.1L223.7,466.3L225.0,463.7L226.2,463.7L227.5,463.7L228.7,463.7L230.0,461.1L231.2,463.7L232.5,463.7L233.7,463.7L235.0,463.7L236.2,463.7L237.4,461.1L238.7,463.7L239.9,461.1L241.2,461.1L242.4,461.1L243.7,461.1L244.9,466.3L246.2,466.3L247.4,461.1L248.7,461.1L249.9,461.1L251.2,463.7L252.4,461.1L253.7,461.1L254.9,458.5L256.2,461.1L257.4,461.1L258.7,461.1L259.9,458.5L261.2,461.1L262.4,461.1L263.6,461.1L264.9,461.1L266.1,458.5L267.4,456.0L268.6,458.5L269.9,456.0L271.1,461.1L272.4,458.5L273.6,456.0L274.9,456.0L276.1,453.4L277.4,450.8L278.6,453.4L279.9,450.8L281.1,453.4L282.4,448.2L283.6,450.8L284.9,448.2L286.1,448.2L287.4,448.2L288.6,450.8L289.8,448.2L291.1,450.8L292.3,448.2L293.6,448.2L294.8,445.6L296.1,448.2L297.3,448.2L298.6,450.8L299.8,448.2L301.1,448.2L302.3,443.0L303.6,445.6L304.8,443.0L306.1,445.6L307.3,445.6L308.6,448.2L309.8,443.0L311.1,445.6L312.3,445.6L313.5,445.6L314.8,440.4L316.0,445.6L317.3,445.6L318.5,448.2L319.8,445.6L321.0,450.8L322.3,445.6L323.5,448.2L324.8,443.0L326.0,448.2L327.3,445.6L328.5,450.8L329.8,448.2L331.0,450.8L332.3,448.2L333.5,453.4L334.8,450.8L336.0,453.4L337.3,448.2L338.5,453.4L339.7,448.2L341.0,450.8L342.2,443.0L343.5,445.6L344.7,437.8L346.0,437.8L347.2,432.7L348.5,432.7L349.7,430.1L351.0,435.3L352.2,430.1L353.5,437.8L354.7,430.1L356.0,432.7L357.2,427.5L358.5,427.5L359.7,422.3L361.0,430.1L362.2,424.9L363.5,427.5L364.7,422.3L365.9,430.1L367.2,424.9L368.4,430.1L369.7,422.3L370.9,430.1L372.2,424.9L373.4,432.7L374.7,422.3L375.9,430.1L377.2,424.9L378.4,430.1L379.7,424.9L380.9,424.9L382.2,419.7L383.4,424.9L384.7,417.2L385.9,419.7L387.2,417.2L388.4,424.9L389.7,417.2L390.9,422.3L392.1,412.0L393.4,419.7L394.6,414.6L395.9,422.3L397.1,414.6L398.4,417.2L399.6,409.4L400.9,417.2L402.1,409.4L403.4,414.6L404.6,412.0L405.9,417.2L407.1,412.0L408.4,419.7L409.6,412.0L410.9,417.2L412.1,409.4L413.4,417.2L414.6,406.8L415.9,404.2L417.1,399.1L418.3,401.6L419.6,391.3L420.8,396.5L422.1,386.1L423.3,393.9L424.6,383.5L425.8,388.7L427.1,383.5L428.3,391.3L429.6,383.5L430.8,388.7L432.1,383.5L433.3,388.7L434.6,381.0L435.8,391.3L437.1,381.0L438.3,391.3L439.6,386.1L440.8,388.7L442.1,381.0L443.3,386.1L444.5,381.0L445.8,383.5L447.0,375.8L448.3,378.4L449.5,375.8L450.8,383.5L452.0,373.2L453.3,381.0L454.5,375.8L455.8,386.1L457.0,378.4L458.3,383.5L459.5,375.8L460.8,378.4L462.0,365.4L463.3,375.8L464.5,370.6L465.8,373.2L467.0,365.4L468.3,370.6L469.5,362.9L470.7,368.0L472.0,360.3L473.2,365.4L474.5,357.7L475.7,362.9L477.0,352.5L478.2,360.3L479.5,349.9L480.7,357.7L482.0,352.5L483.2,362.9L484.5,355.1L485.7,368.0L487.0,357.7L488.2,370.6L489.5,365.4L490.7,375.8L492.0,362.9L493.2,370.6L494.5,362.9L495.7,365.4L496.9,357.7L498.2,365.4L499.4,355.1L500.7,360.3L501.9,355.1L503.2,362.9L504.4,352.5L505.7,362.9L506.9,352.5L508.2,362.9L509.4,349.9L510.7,362.9L511.9,349.9L513.2,357.7L514.4,352.5L515.7,360.3L516.9,347.3L518.2,355.1L519.4,342.2L520.7,352.5L521.9,347.3L523.1,355.1L524.4,344.8L525.6,349.9L526.9,337.0L528.1,349.9L529.4,334.4L530.6,347.3L531.9,331.8L533.1,347.3L534.4,331.8L535.6,344.8L536.9,326.6L538.1,342.2L539.4,324.1L540.6,337.0L541.9,324.1L543.1,337.0L544.4,326.6L545.6,334.4L546.9,326.6L548.1,334.4L549.3,316.3L550.6,324.1L551.8,308.5L553.1,318.9L554.3,311.1L555.6,321.5L556.8,311.1L558.1,324.1L559.3,311.1L560.6,321.5L561.8,311.1L563.1,324.1L564.3,316.3L565.6,321.5L566.8,311.1L568.1,324.1L569.3,308.5L570.6,321.5L571.8,308.5L573.1,318.9L574.3,311.1L575.5,318.9L576.8,308.5L578.0,311.1L579.3,300.8L580.5,313.7L581.8,298.2L583.0,311.1L584.3,298.2L585.5,306.0L586.8,295.6L588.0,306.0L589.3,295.6L590.5,303.4L591.8,293.0L593.0,303.4L594.3,295.6L595.5,306.0L596.8,300.8L598.0,308.5L599.3,295.6L600.5,303.4L601.7,295.6L603.0,311.1L604.2,303.4L605.5,313.7L606.7,300.8L608.0,311.1L609.2,295.6L610.5,308.5L611.7,298.2L613.0,306.0L614.2,293.0L615.5,308.5L616.7,290.4L618.0,300.8L619.2,293.0L620.5,303.4L621.7,293.0L623.0,308.5L624.2,295.6L625.5,316.3L626.7,308.5L627.9,318.9L629.2,311.1L630.4,324.1L631.7,318.9L632.9,324.1L634.2,313.7L635.4,324.1L636.7,313.7L637.9,326.6L639.2,318.9L640.4,329.2L641.7,316.3L642.9,324.1L644.2,316.3L645.4,326.6L646.7,318.9L647.9,326.6L649.2,316.3L650.4,329.2L651.7,321.5L652.9,329.2L654.1,316.3L655.4,331.8L656.6,313.7L657.9,326.6L659.1,311.1L660.4,321.5L661.6,306.0L662.9,311.1L664.1,303.4L665.4,321.5L666.6,316.3L667.9,329.2L669.1,326.6L670.4,342.2L671.6,326.6L672.9,337.0L674.1,326.6L675.4,334.4L676.6,324.1L677.9,337.0L679.1,326.6L680.3,337.0L681.6,329.2L682.8,339.6L684.1,329.2L685.3,342.2L686.6,334.4L687.8,347.3L689.1,337.0L690.3,349.9L691.6,347.3L692.8,352.5L694.1,347.3L695.3,360.3L696.6,347.3L697.8,360.3L699.1,352.5L700.3,360.3L701.6,347.3L702.8,357.7L704.1,347.3L705.3,357.7L706.5,352.5L707.8,357.7L709.0,347.3L710.3,355.1L711.5,347.3L712.8,357.7L714.0,352.5L715.3,365.4L716.5,357.7L717.8,373.2L719.0,365.4L720.3,375.8L721.5,370.6L722.8,381.0L724.0,370.6L725.3,378.4L726.5,370.6L727.8,383.5L729.0,375.8L730.3,388.7L731.5,378.4L732.7,388.7L734.0,381.0L735.2,391.3L736.5,381.0L737.7,391.3L739.0,388.7L740.2,396.5L741.5,391.3L742.7,396.5L744.0,391.3L745.2,399.1L746.5,391.3L747.7,399.1L749.0,393.9L750.2,401.6L751.5,391.3L752.7,401.6L754.0,396.5L755.2,401.6L756.5,396.5L757.7,404.2L758.9,396.5L760.2,401.6L761.4,396.5L762.7,404.2L763.9,399.1L765.2,404.2L766.4,399.1L767.7,406.8L768.9,401.6L770.2,409.4L771.4,406.8L772.7,412.0L773.9,406.8L775.2,412.0L776.4,409.4L777.7,419.7L778.9,414.6L780.2,427.5L781.4,417.2L782.6,424.9L783.9,417.2L785.1,422.3L786.4,417.2L787.6,422.3L788.9,417.2L790.1,427.5L791.4,419.7L792.6,427.5L793.9,422.3L795.1,427.5L796.4,422.3L797.6,430.1L798.9,422.3L800.1,427.5L801.4,424.9L802.6,430.1L803.9,427.5L805.1,430.1L806.4,422.3L807.6,427.5L808.8,424.9L810.1,430.1L811.3,427.5L812.6,432.7L813.8,430.1L815.1,435.3L816.3,427.5L817.6,432.7L818.8,430.1L820.1,435.3L821.3,430.1L822.6,432.7L823.8,432.7L825.1,437.8L826.3,435.3L827.6,440.4L828.8,440.4L830.1,445.6L831.3,440.4L832.6,445.6L833.8,443.0L835.0,445.6L836.3,440.4L837.5,440.4L838.8,437.8L840.0,440.4L841.3,437.8L842.5,443.0L843.8,440.4L845.0,443.0L846.3,437.8L847.5,443.0L848.8,440.4L850.0,445.6L851.3,443.0L852.5,443.0L853.8,443.0L855.0,445.6L856.3,443.0L857.5,448.2L858.8,443.0L860.0,448.2L861.2,445.6L862.5,450.8L863.7,448.2L865.0,450.8L866.2,448.2L867.5,450.8L868.7,448.2L870.0,450.8L871.2,448.2L872.5,453.4L873.7,450.8L875.0,456.0L876.2,450.8L877.5,453.4L878.7,448.2L880.0,450.8L881.2,448.2L882.5,453.4L883.7,453.4L885.0,453.4L886.2,453.4L887.4,456.0L888.7,456.0L889.9,458.5L891.2,456.0L892.4,456.0L893.7,456.0L894.9,458.5L896.2,456.0L897.4,456.0L898.7,456.0L899.9,456.0L901.2,456.0L902.4,458.5L903.7,458.5L904.9,461.1L906.2,456.0L907.4,461.1L908.7,458.5L909.9,458.5L911.2,456.0L912.4,461.1L913.6,458.5L914.9,458.5L916.1,461.1L917.4,461.1L918.6,461.1L919.9,463.7L921.1,461.1L922.4,463.7L923.6,463.7L924.9,463.7L926.1,463.7L927.4,463.7L928.6,461.1L929.9,463.7L931.1,461.1L932.4,463.7L933.6,463.7L934.9,463.7L936.1,463.7L937.4,466.3L938.6,461.1L939.8,463.7L941.1,463.7L942.3,466.3L943.6,463.7L944.8,463.7L946.1,463.7L947.3,466.3L948.6,463.7L949.8,463.7L951.1,463.7L952.3,461.1L953.6,461.1L954.8,466.3L956.1,463.7L957.3,466.3L958.6,463.7L959.8,466.3L961.1,466.3L962.3,468.9L963.6,468.9L964.8,471.5L966.0,468.9L967.3,468.9L968.5,468.9L969.8,468.9L971.0,468.9L972.3,471.5L973.5,471.5L974.8,468.9L976.0,468.9L977.3,468.9L978.5,468.9L979.8,466.3L981.0,466.3L982.3,466.3L983.5,468.9L984.8,468.9L986.0,468.9L987.3,474.1L988.5,468.9L989.8,468.9L991.0,466.3" fill="none" stroke="#333" stroke-width="1.5" stroke-linejoin="round" stroke-opacity="1"/>
<path d="M79.0,469.5L80.2,469.5L81.5,469.5L82.7,469.5L84.0,469.5L85.2,469.5L86.5,469.5L87.7,469.5L89.0,469.5L90.2,469.5L91.5,469.4L92.7,469.4L94.0,469.4L95.2,469.4L96.5,469.4L97.7,469.4L99.0,469.4L100.2,469.4L101.5,469.3L102.7,469.3L104.0,469.3L105.2,469.3L106.4,469.3L107.7,469.2L108.9,469.2L110.2,469.2L111.4,469.2L112.7,469.2L113.9,469.1L115.2,469.1L116.4,469.1L117.7,469.0L118.9,469.0L120.2,469.0L121.4,469.0L122.7,468.9L123.9,468.9L125.2,468.9L126.4,468.8L127.7,468.8L128.9,468.8L130.2,468.7L131.4,468.7L132.6,468.7L133.9,468.6L135.1,468.6L136.4,468.6L137.6,468.5L138.9,468.5L140.1,468.5L141.4,468.4L142.6,468.4L143.9,468.4L145.1,468.3L146.4,468.3L147.6,468.2L148.9,468.2L150.1,468.2L151.4,468.1L152.6,468.1L153.9,468.0L155.1,468.0L156.4,468.0L157.6,467.9L158.8,467.9L160.1,467.8L161.3,467.8L162.6,467.8L163.8,467.7L165.1,467.7L166.3,467.6L167.6,467.6L168.8,467.5L170.1,467.5L171.3,467.5L172.6,467.4L173.8,467.4L175.1,467.3L176.3,467.3L177.6,467.2L178.8,467.1L180.1,467.1L181.3,467.0L182.6,467.0L183.8,466.9L185.0,466.8L186.3,466.8L187.5,466.7L188.8,466.6L190.0,466.6L191.3,466.5L192.5,466.4L193.8,466.3L195.0,466.3L196.3,466.2L197.5,466.1L198.8,466.0L200.0,465.9L201.3,465.8L202.5,465.7L203.8,465.6L205.0,465.5L206.3,465.5L207.5,465.4L208.8,465.3L210.0,465.1L211.2,465.0L212.5,464.9L213.7,464.8L215.0,464.7L216.2,464.6L217.5,464.5L218.7,464.4L220.0,464.3L221.2,464.1L222.5,464.0L223.7,463.9L225.0,463.7L226.2,463.5L227.5,463.4L228.7,463.2L230.0,463.0L231.2,462.8L232.5,462.6L233.7,462.4L235.0,462.2L236.2,462.0L237.4,461.8L238.7,461.6L239.9,461.3L241.2,461.1L242.4,460.9L243.7,460.6L244.9,460.4L246.2,460.1L247.4,459.9L248.7,459.6L249.9,459.3L251.2,459.1L252.4,458.8L253.7,458.5L254.9,458.3L256.2,458.0L257.4,457.7L258.7,457.5L259.9,457.2L261.2,456.9L262.4,456.6L263.6,456.4L264.9,456.1L266.1,455.8L267.4,455.6L268.6,455.3L269.9,455.0L271.1,454.8L272.4,454.5L273.6,454.2L274.9,454.0L276.1,453.7L277.4,453.4L278.6,453.2L279.9,452.9L281.1,452.7L282.4,452.4L283.6,452.1L284.9,451.8L286.1,451.6L287.4,451.3L288.6,451.0L289.8,450.7L291.1,450.5L292.3,450.2L293.6,449.9L294.8,449.6L296.1,449.3L297.3,449.0L298.6,448.7L299.8,448.4L301.1,448.1L302.3,447.8L303.6,447.4L304.8,447.1L306.1,446.8L307.3,446.4L308.6,446.1L309.8,445.7L311.1,445.3L312.3,445.0L313.5,444.6L314.8,444.2L316.0,443.8L317.3,443.4L318.5,443.0L319.8,442.6L321.0,442.1L322.3,441.7L323.5,441.1L324.8,440.6L326.0,440.0L327.3,439.5L328.5,438.8L329.8,438.2L331.0,437.6L332.3,436.9L333.5,436.2L334.8,435.5L336.0,434.8L337.3,434.1L338.5,433.5L339.7,432.8L341.0,432.1L342.2,431.4L343.5,430.7L344.7,430.1L346.0,429.4L347.2,428.8L348.5,428.2L349.7,427.6L351.0,427.1L352.2,426.5L353.5,426.0L354.7,425.4L356.0,424.9L357.2,424.4L358.5,423.9L359.7,423.3L361.0,422.8L362.2,422.3L363.5,421.8L364.7,421.3L365.9,420.8L367.2,420.4L368.4,419.9L369.7,419.4L370.9,418.9L372.2,418.4L373.4,417.9L374.7,417.5L375.9,417.0L377.2,416.5L378.4,416.0L379.7,415.6L380.9,415.1L382.2,414.6L383.4,414.1L384.7,413.6L385.9,413.2L387.2,412.7L388.4,412.2L389.7,411.7L390.9,411.2L392.1,410.7L393.4,410.2L394.6,409.7L395.9,409.2L397.1,408.7L398.4,408.2L399.6,407.7L400.9,407.1L402.1,406.6L403.4,406.1L404.6,405.5L405.9,405.0L407.1,404.5L408.4,403.9L409.6,403.4L410.9,402.8L412.1,402.3L413.4,401.7L414.6,401.2L415.9,400.6L417.1,400.1L418.3,399.5L419.6,399.0L420.8,398.4L422.1,397.9L423.3,397.3L424.6,396.7L425.8,396.2L427.1,395.6L428.3,395.1L429.6,394.5L430.8,393.9L432.1,393.4L433.3,392.8L434.6,392.2L435.8,391.6L437.1,391.1L438.3,390.5L439.6,389.9L440.8,389.3L442.1,388.7L443.3,388.2L444.5,387.6L445.8,387.0L447.0,386.4L448.3,385.8L449.5,385.2L450.8,384.6L452.0,384.0L453.3,383.4L454.5,382.8L455.8,382.2L457.0,381.6L458.3,380.9L459.5,380.3L460.8,379.7L462.0,379.0L463.3,378.4L464.5,377.7L465.8,377.1L467.0,376.4L468.3,375.8L469.5,375.1L470.7,374.5L472.0,373.8L473.2,373.1L474.5,372.5L475.7,371.8L477.0,371.2L478.2,370.5L479.5,369.9L480.7,369.2L482.0,368.6L483.2,368.0L484.5,367.3L485.7,366.7L487.0,366.1L488.2,365.5L489.5,364.8L490.7,364.2L492.0,363.6L493.2,363.1L494.5,362.5L495.7,361.9L496.9,361.3L498.2,360.8L499.4,360.2L500.7,359.7L501.9,359.2L503.2,358.6L504.4,358.1L505.7,357.5L506.9,357.0L508.2,356.4L509.4,355.9L510.7,355.3L511.9,354.7L513.2,354.2L514.4,353.6L515.7,353.1L516.9,352.5L518.2,352.0L519.4,351.4L520.7,350.9L521.9,350.4L523.1,349.9L524.4,349.3L525.6,348.8L526.9,348.3L528.1,347.8L529.4,347.3L530.6,346.9L531.9,346.4L533.1,345.9L534.4,345.5L535.6,345.1L536.9,344.7L538.1,344.3L539.4,343.9L540.6,343.5L541.9,343.1L543.1,342.8L544.4,342.5L545.6,342.2L546.9,341.9L548.1,341.6L549.3,341.4L550.6,341.1L551.8,340.9L553.1,340.7L554.3,340.5L555.6,340.3L556.8,340.1L558.1,339.9L559.3,339.7L560.6,339.5L561.8,339.4L563.1,339.2L564.3,339.0L565.6,338.9L566.8,338.7L568.1,338.6L569.3,338.4L570.6,338.3L571.8,338.2L573.1,338.0L574.3,337.9L575.5,337.8L576.8,337.7L578.0,337.5L579.3,337.4L580.5,337.3L581.8,337.2L583.0,337.1L584.3,337.0L585.5,336.9L586.8,336.8L588.0,336.7L589.3,336.6L590.5,336.5L591.8,336.4L593.0,336.4L594.3,336.3L595.5,336.3L596.8,336.3L598.0,336.3L599.3,336.3L600.5,336.3L601.7,336.3L603.0,336.3L604.2,336.3L605.5,336.4L606.7,336.4L608.0,336.5L609.2,336.5L610.5,336.5L611.7,336.6L613.0,336.7L614.2,336.7L615.5,336.8L616.7,336.8L618.0,336.9L619.2,337.0L620.5,337.0L621.7,337.1L623.0,337.2L624.2,337.3L625.5,337.4L626.7,337.6L627.9,337.8L629.2,337.9L630.4,338.1L631.7,338.3L632.9,338.5L634.2,338.8L635.4,339.0L636.7,339.3L637.9,339.5L639.2,339.8L640.4,340.1L641.7,340.4L642.9,340.7L644.2,341.0L645.4,341.3L646.7,341.6L647.9,342.0L649.2,342.3L650.4,342.7L651.7,343.0L652.9,343.4L654.1,343.8L655.4,344.1L656.6,344.5L657.9,344.9L659.1,345.3L660.4,345.7L661.6,346.1L662.9,346.5L664.1,346.9L665.4,347.3L666.6,347.7L667.9,348.1L669.1,348.5L670.4,348.9L671.6,349.3L672.9,349.7L674.1,350.2L675.4,350.6L676.6,351.1L677.9,351.6L679.1,352.1L680.3,352.7L681.6,353.2L682.8,353.8L684.1,354.4L685.3,354.9L686.6,355.5L687.8,356.1L689.1,356.8L690.3,357.4L691.6,358.0L692.8,358.7L694.1,359.3L695.3,360.0L696.6,360.7L697.8,361.4L699.1,362.0L700.3,362.7L701.6,363.4L702.8,364.1L704.1,364.8L705.3,365.5L706.5,366.2L707.8,366.9L709.0,367.6L710.3,368.3L711.5,369.0L712.8,369.7L714.0,370.4L715.3,371.1L716.5,371.8L717.8,372.5L719.0,373.2L720.3,373.9L721.5,374.6L722.8,375.3L724.0,376.0L725.3,376.7L726.5,377.4L727.8,378.1L729.0,378.9L730.3,379.6L731.5,380.4L732.7,381.1L734.0,381.9L735.2,382.6L736.5,383.4L737.7,384.2L739.0,384.9L740.2,385.7L741.5,386.5L742.7,387.2L744.0,388.0L745.2,388.8L746.5,389.6L747.7,390.4L749.0,391.1L750.2,391.9L751.5,392.7L752.7,393.5L754.0,394.2L755.2,395.0L756.5,395.8L757.7,396.5L758.9,397.3L760.2,398.0L761.4,398.8L762.7,399.5L763.9,400.3L765.2,401.0L766.4,401.7L767.7,402.4L768.9,403.1L770.2,403.8L771.4,404.5L772.7,405.2L773.9,405.9L775.2,406.6L776.4,407.3L777.7,408.0L778.9,408.7L780.2,409.4L781.4,410.1L782.6,410.8L783.9,411.5L785.1,412.2L786.4,412.8L787.6,413.5L788.9,414.2L790.1,414.9L791.4,415.5L792.6,416.2L793.9,416.9L795.1,417.5L796.4,418.2L797.6,418.9L798.9,419.5L800.1,420.2L801.4,420.8L802.6,421.5L803.9,422.1L805.1,422.7L806.4,423.4L807.6,424.0L808.8,424.6L810.1,425.2L811.3,425.9L812.6,426.5L813.8,427.1L815.1,427.7L816.3,428.3L817.6,428.9L818.8,429.5L820.1,430.0L821.3,430.6L822.6,431.2L823.8,431.8L825.1,432.4L826.3,432.9L827.6,433.5L828.8,434.1L830.1,434.7L831.3,435.3L832.6,435.9L833.8,436.4L835.0,437.0L836.3,437.6L837.5,438.2L838.8,438.7L840.0,439.3L841.3,439.8L842.5,440.4L843.8,440.9L845.0,441.5L846.3,442.0L847.5,442.5L848.8,443.1L850.0,443.6L851.3,444.1L852.5,444.6L853.8,445.1L855.0,445.6L856.3,446.0L857.5,446.5L858.8,447.0L860.0,447.4L861.2,447.8L862.5,448.3L863.7,448.7L865.0,449.1L866.2,449.5L867.5,449.8L868.7,450.2L870.0,450.6L871.2,450.9L872.5,451.3L873.7,451.6L875.0,452.0L876.2,452.3L877.5,452.6L878.7,453.0L880.0,453.3L881.2,453.6L882.5,453.9L883.7,454.3L885.0,454.6L886.2,454.9L887.4,455.2L888.7,455.5L889.9,455.8L891.2,456.0L892.4,456.3L893.7,456.6L894.9,456.9L896.2,457.2L897.4,457.4L898.7,457.7L899.9,457.9L901.2,458.2L902.4,458.4L903.7,458.7L904.9,458.9L906.2,459.2L907.4,459.4L908.7,459.6L909.9,459.9L911.2,460.1L912.4,460.3L913.6,460.5L914.9,460.7L916.1,460.9L917.4,461.2L918.6,461.4L919.9,461.6L921.1,461.7L922.4,461.9L923.6,462.1L924.9,462.3L926.1,462.5L927.4,462.7L928.6,462.9L929.9,463.1L931.1,463.2L932.4,463.4L933.6,463.6L934.9,463.7L936.1,463.9L937.4,464.1L938.6,464.2L939.8,464.4L941.1,464.6L942.3,464.7L943.6,464.9L944.8,465.0L946.1,465.2L947.3,465.3L948.6,465.5L949.8,465.6L951.1,465.8L952.3,465.9L953.6,466.0L954.8,466.2L956.1,466.3L957.3,466.4L958.6,466.6L959.8,466.7L961.1,466.8L962.3,467.0L963.6,467.1L964.8,467.2L966.0,467.3L967.3,467.4L968.5,467.5L969.8,467.7L971.0,467.8L972.3,467.9L973.5,468.0L974.8,468.1L976.0,468.2L977.3,468.3L978.5,468.4L979.8,468.5L981.0,468.6L982.3,468.7L983.5,468.8L984.8,468.8L986.0,468.9L987.3,469.0L988.5,469.1L989.8,469.2L991.0,469.2" fill="none" stroke="#000" stroke-width="1.4" stroke-linejoin="round" stroke-opacity="1"/>
</svg>
</body></html>
